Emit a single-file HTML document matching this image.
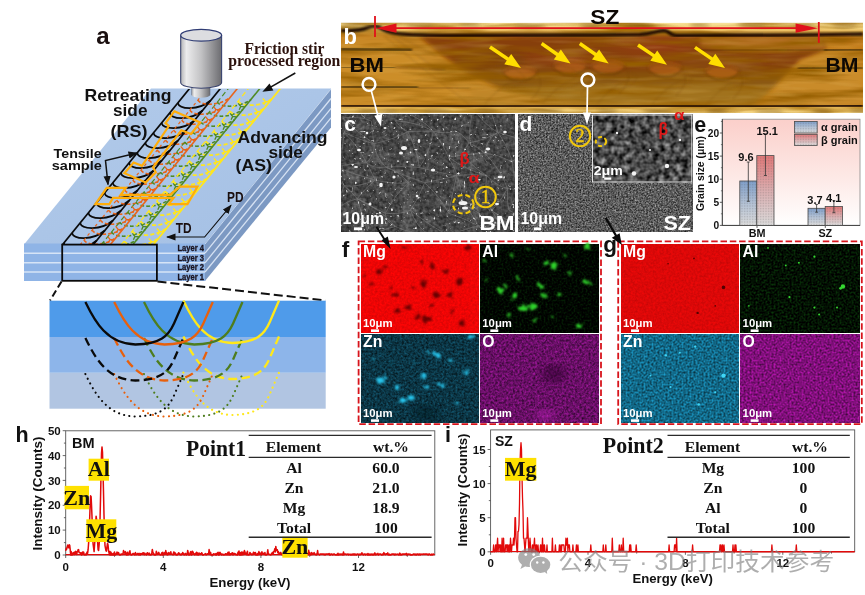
<!DOCTYPE html>
<html><head><meta charset="utf-8">
<style>
html,body{margin:0;padding:0;background:#fff;}
body{width:865px;height:595px;overflow:hidden;font-family:"Liberation Sans",sans-serif;}
svg{display:block;filter:blur(0.45px);}
text{font-family:"Liberation Sans",sans-serif;}
.b{font-weight:bold;}
.sf{font-family:"Liberation Serif",serif;font-weight:bold;}
</style></head><body>
<svg width="865" height="595" viewBox="0 0 865 595">
<rect width="865" height="595" fill="#fff"/>
<!-- PA -->
<g id="pa">
<defs>
<linearGradient id="cylg" x1="0" x2="1" y1="0" y2="0"><stop offset="0" stop-color="#b4b4b6"/><stop offset="0.14" stop-color="#ececed"/><stop offset="0.5" stop-color="#c2c2c4"/><stop offset="1" stop-color="#6c6c70"/></linearGradient>
<linearGradient id="topg" x1="0" x2="1" y1="0" y2="1"><stop offset="0" stop-color="#b3cbea"/><stop offset="1" stop-color="#a3bfe4"/></linearGradient>
<clipPath id="topclip"><polygon points="151,89 331,89 205,244.5 24,244.5"/></clipPath>
</defs>
<polygon points="151,88.5 331,88.5 205,244.5 24,244.5" fill="url(#topg)"/>
<rect x="24" y="243.5" width="181.2" height="37.5" fill="#8fb4e6"/>
<rect x="24" y="252.6" width="181.2" height="1.2" fill="#e8f0fa"/>
<rect x="24" y="262.2" width="181.2" height="1.2" fill="#e8f0fa"/>
<rect x="24" y="271.4" width="181.2" height="1.2" fill="#e8f0fa"/>
<polygon points="205,243.5 331,88.5 331,127.5 205,281" fill="#7c99c3"/>
<line x1="205" y1="253.2" x2="331" y2="98.5" stroke="#d6e2f3" stroke-width="1.3"/>
<line x1="205" y1="262.8" x2="331" y2="108.4" stroke="#d6e2f3" stroke-width="1.3"/>
<line x1="205" y1="272.0" x2="331" y2="117.9" stroke="#d6e2f3" stroke-width="1.3"/>
<line x1="205" y1="244" x2="331" y2="89" stroke="#c4d6ee" stroke-width="1"/>
<g clip-path="url(#topclip)">
<path d="M63.8,243.0 C65.5,249.3 84.2,251.1 96.7,240.5" fill="none" stroke="#0a0a0a" stroke-width="1.7"/>
<path d="M72.0,233.0 C73.6,239.3 92.3,241.1 104.8,230.5" fill="none" stroke="#0a0a0a" stroke-width="1.7"/>
<path d="M80.1,223.0 C81.8,229.3 100.5,231.1 112.9,220.5" fill="none" stroke="#0a0a0a" stroke-width="1.7"/>
<path d="M88.3,213.0 C89.9,219.3 108.6,221.1 121.1,210.5" fill="none" stroke="#0a0a0a" stroke-width="1.7"/>
<path d="M96.4,203.0 C98.0,209.3 116.8,211.1 129.2,200.5" fill="none" stroke="#0a0a0a" stroke-width="1.7"/>
<path d="M104.5,193.0 C106.2,199.3 124.9,201.1 137.4,190.5" fill="none" stroke="#0a0a0a" stroke-width="1.7"/>
<path d="M112.7,183.0 C114.3,189.3 133.0,191.1 145.5,180.5" fill="none" stroke="#0a0a0a" stroke-width="1.7"/>
<path d="M120.8,173.0 C122.5,179.3 141.2,181.1 153.7,170.5" fill="none" stroke="#0a0a0a" stroke-width="1.7"/>
<path d="M129.0,163.0 C130.6,169.3 149.3,171.1 161.8,160.5" fill="none" stroke="#0a0a0a" stroke-width="1.7"/>
<path d="M137.1,153.0 C138.7,159.3 157.5,161.1 169.9,150.5" fill="none" stroke="#0a0a0a" stroke-width="1.7"/>
<path d="M145.2,143.0 C146.9,149.3 165.6,151.1 178.1,140.5" fill="none" stroke="#0a0a0a" stroke-width="1.7"/>
<path d="M153.4,133.0 C155.0,139.3 173.7,141.1 186.2,130.5" fill="none" stroke="#0a0a0a" stroke-width="1.7"/>
<path d="M161.5,123.0 C163.2,129.3 181.9,131.1 194.4,120.5" fill="none" stroke="#0a0a0a" stroke-width="1.7"/>
<path d="M169.7,113.0 C171.3,119.3 190.0,121.1 202.5,110.5" fill="none" stroke="#0a0a0a" stroke-width="1.7"/>
<path d="M177.8,103.0 C179.4,109.3 198.2,111.1 210.6,100.5" fill="none" stroke="#0a0a0a" stroke-width="1.7"/>
<path d="M84.1,240.0 C85.7,245.2 103.9,246.8 116.1,237.5" fill="none" stroke="#e8641a" stroke-width="1.6" stroke-dasharray="3.6 2.2"/>
<path d="M92.2,230.0 C93.8,235.2 112.1,236.8 124.2,227.5" fill="none" stroke="#e8641a" stroke-width="1.6" stroke-dasharray="3.6 2.2"/>
<path d="M100.4,220.0 C102.0,225.2 120.2,226.8 132.4,217.5" fill="none" stroke="#e8641a" stroke-width="1.6" stroke-dasharray="3.6 2.2"/>
<path d="M108.5,210.0 C110.1,215.2 128.4,216.8 140.5,207.5" fill="none" stroke="#e8641a" stroke-width="1.6" stroke-dasharray="3.6 2.2"/>
<path d="M116.6,200.0 C118.2,205.2 136.5,206.8 148.7,197.5" fill="none" stroke="#e8641a" stroke-width="1.6" stroke-dasharray="3.6 2.2"/>
<path d="M124.8,190.0 C126.4,195.2 144.6,196.8 156.8,187.5" fill="none" stroke="#e8641a" stroke-width="1.6" stroke-dasharray="3.6 2.2"/>
<path d="M132.9,180.0 C134.5,185.2 152.8,186.8 165.0,177.5" fill="none" stroke="#e8641a" stroke-width="1.6" stroke-dasharray="3.6 2.2"/>
<path d="M141.1,170.0 C142.7,175.2 160.9,176.8 173.1,167.5" fill="none" stroke="#e8641a" stroke-width="1.6" stroke-dasharray="3.6 2.2"/>
<path d="M149.2,160.0 C150.8,165.2 169.1,166.8 181.2,157.5" fill="none" stroke="#e8641a" stroke-width="1.6" stroke-dasharray="3.6 2.2"/>
<path d="M157.3,150.0 C158.9,155.2 177.2,156.8 189.4,147.5" fill="none" stroke="#e8641a" stroke-width="1.6" stroke-dasharray="3.6 2.2"/>
<path d="M165.5,140.0 C167.1,145.2 185.3,146.8 197.5,137.5" fill="none" stroke="#e8641a" stroke-width="1.6" stroke-dasharray="3.6 2.2"/>
<path d="M173.6,130.0 C175.2,135.2 193.5,136.8 205.7,127.5" fill="none" stroke="#e8641a" stroke-width="1.6" stroke-dasharray="3.6 2.2"/>
<path d="M181.8,120.0 C183.4,125.2 201.6,126.8 213.8,117.5" fill="none" stroke="#e8641a" stroke-width="1.6" stroke-dasharray="3.6 2.2"/>
<path d="M189.9,110.0 C191.5,115.2 209.8,116.8 221.9,107.5" fill="none" stroke="#e8641a" stroke-width="1.6" stroke-dasharray="3.6 2.2"/>
<path d="M198.0,100.0 C199.6,105.2 217.9,106.8 230.1,97.5" fill="none" stroke="#e8641a" stroke-width="1.6" stroke-dasharray="3.6 2.2"/>
<path d="M103.4,242.0 C105.1,247.2 124.2,248.8 137.0,239.5" fill="none" stroke="#4f8a24" stroke-width="1.6" stroke-dasharray="3.6 2.2"/>
<path d="M111.6,232.0 C113.3,237.2 132.4,238.8 145.1,229.5" fill="none" stroke="#4f8a24" stroke-width="1.6" stroke-dasharray="3.6 2.2"/>
<path d="M119.7,222.0 C121.4,227.2 140.5,228.8 153.3,219.5" fill="none" stroke="#4f8a24" stroke-width="1.6" stroke-dasharray="3.6 2.2"/>
<path d="M127.9,212.0 C129.5,217.2 148.7,218.8 161.4,209.5" fill="none" stroke="#4f8a24" stroke-width="1.6" stroke-dasharray="3.6 2.2"/>
<path d="M136.0,202.0 C137.7,207.2 156.8,208.8 169.5,199.5" fill="none" stroke="#4f8a24" stroke-width="1.6" stroke-dasharray="3.6 2.2"/>
<path d="M144.1,192.0 C145.8,197.2 164.9,198.8 177.7,189.5" fill="none" stroke="#4f8a24" stroke-width="1.6" stroke-dasharray="3.6 2.2"/>
<path d="M152.3,182.0 C154.0,187.2 173.1,188.8 185.8,179.5" fill="none" stroke="#4f8a24" stroke-width="1.6" stroke-dasharray="3.6 2.2"/>
<path d="M160.4,172.0 C162.1,177.2 181.2,178.8 194.0,169.5" fill="none" stroke="#4f8a24" stroke-width="1.6" stroke-dasharray="3.6 2.2"/>
<path d="M168.6,162.0 C170.2,167.2 189.4,168.8 202.1,159.5" fill="none" stroke="#4f8a24" stroke-width="1.6" stroke-dasharray="3.6 2.2"/>
<path d="M176.7,152.0 C178.4,157.2 197.5,158.8 210.2,149.5" fill="none" stroke="#4f8a24" stroke-width="1.6" stroke-dasharray="3.6 2.2"/>
<path d="M184.9,142.0 C186.5,147.2 205.6,148.8 218.4,139.5" fill="none" stroke="#4f8a24" stroke-width="1.6" stroke-dasharray="3.6 2.2"/>
<path d="M193.0,132.0 C194.7,137.2 213.8,138.8 226.5,129.5" fill="none" stroke="#4f8a24" stroke-width="1.6" stroke-dasharray="3.6 2.2"/>
<path d="M201.1,122.0 C202.8,127.2 221.9,128.8 234.7,119.5" fill="none" stroke="#4f8a24" stroke-width="1.6" stroke-dasharray="3.6 2.2"/>
<path d="M209.3,112.0 C211.0,117.2 230.1,118.8 242.8,109.5" fill="none" stroke="#4f8a24" stroke-width="1.6" stroke-dasharray="3.6 2.2"/>
<path d="M217.4,102.0 C219.1,107.2 238.2,108.8 251.0,99.5" fill="none" stroke="#4f8a24" stroke-width="1.6" stroke-dasharray="3.6 2.2"/>
<path d="M124.3,241.0 C126.0,246.2 145.4,247.8 158.3,238.5" fill="none" stroke="#ffe61e" stroke-width="1.8" stroke-dasharray="4 2.4"/>
<path d="M132.4,231.0 C134.1,236.2 153.5,237.8 166.4,228.5" fill="none" stroke="#ffe61e" stroke-width="1.8" stroke-dasharray="4 2.4"/>
<path d="M140.5,221.0 C142.2,226.2 161.6,227.8 174.6,218.5" fill="none" stroke="#ffe61e" stroke-width="1.8" stroke-dasharray="4 2.4"/>
<path d="M148.7,211.0 C150.4,216.2 169.8,217.8 182.7,208.5" fill="none" stroke="#ffe61e" stroke-width="1.8" stroke-dasharray="4 2.4"/>
<path d="M156.8,201.0 C158.5,206.2 177.9,207.8 190.9,198.5" fill="none" stroke="#ffe61e" stroke-width="1.8" stroke-dasharray="4 2.4"/>
<path d="M165.0,191.0 C166.7,196.2 186.1,197.8 199.0,188.5" fill="none" stroke="#ffe61e" stroke-width="1.8" stroke-dasharray="4 2.4"/>
<path d="M173.1,181.0 C174.8,186.2 194.2,187.8 207.1,178.5" fill="none" stroke="#ffe61e" stroke-width="1.8" stroke-dasharray="4 2.4"/>
<path d="M181.2,171.0 C182.9,176.2 202.3,177.8 215.3,168.5" fill="none" stroke="#ffe61e" stroke-width="1.8" stroke-dasharray="4 2.4"/>
<path d="M189.4,161.0 C191.1,166.2 210.5,167.8 223.4,158.5" fill="none" stroke="#ffe61e" stroke-width="1.8" stroke-dasharray="4 2.4"/>
<path d="M197.5,151.0 C199.2,156.2 218.6,157.8 231.6,148.5" fill="none" stroke="#ffe61e" stroke-width="1.8" stroke-dasharray="4 2.4"/>
<path d="M205.7,141.0 C207.4,146.2 226.8,147.8 239.7,138.5" fill="none" stroke="#ffe61e" stroke-width="1.8" stroke-dasharray="4 2.4"/>
<path d="M213.8,131.0 C215.5,136.2 234.9,137.8 247.8,128.5" fill="none" stroke="#ffe61e" stroke-width="1.8" stroke-dasharray="4 2.4"/>
<path d="M221.9,121.0 C223.7,126.2 243.1,127.8 256.0,118.5" fill="none" stroke="#ffe61e" stroke-width="1.8" stroke-dasharray="4 2.4"/>
<path d="M230.1,111.0 C231.8,116.2 251.2,117.8 264.1,108.5" fill="none" stroke="#ffe61e" stroke-width="1.8" stroke-dasharray="4 2.4"/>
<path d="M238.2,101.0 C239.9,106.2 259.3,107.8 272.3,98.5" fill="none" stroke="#ffe61e" stroke-width="1.8" stroke-dasharray="4 2.4"/>
<line x1="80.0" y1="245" x2="207.8" y2="88" stroke="#e8641a" stroke-width="1.2" stroke-dasharray="3 3"/>
<line x1="101.0" y1="245" x2="228.8" y2="88" stroke="#4f8a24" stroke-width="1.2" stroke-dasharray="5 3"/>
<line x1="121.0" y1="245" x2="248.8" y2="88" stroke="#ffe61e" stroke-width="1.3" stroke-dasharray="5 3"/>
<line x1="110.0" y1="245" x2="237.8" y2="88" stroke="#e8641a" stroke-width="1.6"/>
<line x1="132.5" y1="245" x2="260.3" y2="88" stroke="#4f8a24" stroke-width="1.6"/>
<line x1="153.0" y1="245" x2="280.8" y2="88" stroke="#ffe61e" stroke-width="1.8"/>
<line x1="62.2" y1="245" x2="190.0" y2="88" stroke="#0a0a0a" stroke-width="1.7"/>
<line x1="93.0" y1="245" x2="220.8" y2="88" stroke="#0a0a0a" stroke-width="1.7"/>
<path d="M114.1,240.0 l-4,-0.6 l-2.6,-3 M110.1,239.4 l-1.6,3.4" fill="none" stroke="#e8641a" stroke-width="1.3"/>
<path d="M122.2,230.0 l-4,-0.6 l-2.6,-3 M118.2,229.4 l-1.6,3.4" fill="none" stroke="#e8641a" stroke-width="1.3"/>
<path d="M130.4,220.0 l-4,-0.6 l-2.6,-3 M126.4,219.4 l-1.6,3.4" fill="none" stroke="#e8641a" stroke-width="1.3"/>
<path d="M138.5,210.0 l-4,-0.6 l-2.6,-3 M134.5,209.4 l-1.6,3.4" fill="none" stroke="#e8641a" stroke-width="1.3"/>
<path d="M146.6,200.0 l-4,-0.6 l-2.6,-3 M142.6,199.4 l-1.6,3.4" fill="none" stroke="#e8641a" stroke-width="1.3"/>
<path d="M154.8,190.0 l-4,-0.6 l-2.6,-3 M150.8,189.4 l-1.6,3.4" fill="none" stroke="#e8641a" stroke-width="1.3"/>
<path d="M162.9,180.0 l-4,-0.6 l-2.6,-3 M158.9,179.4 l-1.6,3.4" fill="none" stroke="#e8641a" stroke-width="1.3"/>
<path d="M171.1,170.0 l-4,-0.6 l-2.6,-3 M167.1,169.4 l-1.6,3.4" fill="none" stroke="#e8641a" stroke-width="1.3"/>
<path d="M179.2,160.0 l-4,-0.6 l-2.6,-3 M175.2,159.4 l-1.6,3.4" fill="none" stroke="#e8641a" stroke-width="1.3"/>
<path d="M187.3,150.0 l-4,-0.6 l-2.6,-3 M183.3,149.4 l-1.6,3.4" fill="none" stroke="#e8641a" stroke-width="1.3"/>
<path d="M195.5,140.0 l-4,-0.6 l-2.6,-3 M191.5,139.4 l-1.6,3.4" fill="none" stroke="#e8641a" stroke-width="1.3"/>
<path d="M203.6,130.0 l-4,-0.6 l-2.6,-3 M199.6,129.4 l-1.6,3.4" fill="none" stroke="#e8641a" stroke-width="1.3"/>
<path d="M211.8,120.0 l-4,-0.6 l-2.6,-3 M207.8,119.4 l-1.6,3.4" fill="none" stroke="#e8641a" stroke-width="1.3"/>
<path d="M219.9,110.0 l-4,-0.6 l-2.6,-3 M215.9,109.4 l-1.6,3.4" fill="none" stroke="#e8641a" stroke-width="1.3"/>
<path d="M139.0,237.0 l-4,-0.6 l-2.6,-3 M135.0,236.4 l-1.6,3.4" fill="none" stroke="#4f8a24" stroke-width="1.3"/>
<path d="M147.2,227.0 l-4,-0.6 l-2.6,-3 M143.2,226.4 l-1.6,3.4" fill="none" stroke="#4f8a24" stroke-width="1.3"/>
<path d="M155.3,217.0 l-4,-0.6 l-2.6,-3 M151.3,216.4 l-1.6,3.4" fill="none" stroke="#4f8a24" stroke-width="1.3"/>
<path d="M163.4,207.0 l-4,-0.6 l-2.6,-3 M159.4,206.4 l-1.6,3.4" fill="none" stroke="#4f8a24" stroke-width="1.3"/>
<path d="M171.6,197.0 l-4,-0.6 l-2.6,-3 M167.6,196.4 l-1.6,3.4" fill="none" stroke="#4f8a24" stroke-width="1.3"/>
<path d="M179.7,187.0 l-4,-0.6 l-2.6,-3 M175.7,186.4 l-1.6,3.4" fill="none" stroke="#4f8a24" stroke-width="1.3"/>
<path d="M187.9,177.0 l-4,-0.6 l-2.6,-3 M183.9,176.4 l-1.6,3.4" fill="none" stroke="#4f8a24" stroke-width="1.3"/>
<path d="M196.0,167.0 l-4,-0.6 l-2.6,-3 M192.0,166.4 l-1.6,3.4" fill="none" stroke="#4f8a24" stroke-width="1.3"/>
<path d="M204.1,157.0 l-4,-0.6 l-2.6,-3 M200.1,156.4 l-1.6,3.4" fill="none" stroke="#4f8a24" stroke-width="1.3"/>
<path d="M212.3,147.0 l-4,-0.6 l-2.6,-3 M208.3,146.4 l-1.6,3.4" fill="none" stroke="#4f8a24" stroke-width="1.3"/>
<path d="M220.4,137.0 l-4,-0.6 l-2.6,-3 M216.4,136.4 l-1.6,3.4" fill="none" stroke="#4f8a24" stroke-width="1.3"/>
<path d="M228.6,127.0 l-4,-0.6 l-2.6,-3 M224.6,126.4 l-1.6,3.4" fill="none" stroke="#4f8a24" stroke-width="1.3"/>
<path d="M236.7,117.0 l-4,-0.6 l-2.6,-3 M232.7,116.4 l-1.6,3.4" fill="none" stroke="#4f8a24" stroke-width="1.3"/>
<path d="M244.8,107.0 l-4,-0.6 l-2.6,-3 M240.8,106.4 l-1.6,3.4" fill="none" stroke="#4f8a24" stroke-width="1.3"/>
<path d="M155.4,242.0 l-4,-0.6 l-2.6,-3 M151.4,241.4 l-1.6,3.4" fill="none" stroke="#ffe61e" stroke-width="1.5"/>
<path d="M163.6,232.0 l-4,-0.6 l-2.6,-3 M159.6,231.4 l-1.6,3.4" fill="none" stroke="#ffe61e" stroke-width="1.5"/>
<path d="M171.7,222.0 l-4,-0.6 l-2.6,-3 M167.7,221.4 l-1.6,3.4" fill="none" stroke="#ffe61e" stroke-width="1.5"/>
<path d="M179.9,212.0 l-4,-0.6 l-2.6,-3 M175.9,211.4 l-1.6,3.4" fill="none" stroke="#ffe61e" stroke-width="1.5"/>
<path d="M188.0,202.0 l-4,-0.6 l-2.6,-3 M184.0,201.4 l-1.6,3.4" fill="none" stroke="#ffe61e" stroke-width="1.5"/>
<path d="M196.1,192.0 l-4,-0.6 l-2.6,-3 M192.1,191.4 l-1.6,3.4" fill="none" stroke="#ffe61e" stroke-width="1.5"/>
<path d="M204.3,182.0 l-4,-0.6 l-2.6,-3 M200.3,181.4 l-1.6,3.4" fill="none" stroke="#ffe61e" stroke-width="1.5"/>
<path d="M212.4,172.0 l-4,-0.6 l-2.6,-3 M208.4,171.4 l-1.6,3.4" fill="none" stroke="#ffe61e" stroke-width="1.5"/>
<path d="M220.6,162.0 l-4,-0.6 l-2.6,-3 M216.6,161.4 l-1.6,3.4" fill="none" stroke="#ffe61e" stroke-width="1.5"/>
<path d="M228.7,152.0 l-4,-0.6 l-2.6,-3 M224.7,151.4 l-1.6,3.4" fill="none" stroke="#ffe61e" stroke-width="1.5"/>
<path d="M236.9,142.0 l-4,-0.6 l-2.6,-3 M232.9,141.4 l-1.6,3.4" fill="none" stroke="#ffe61e" stroke-width="1.5"/>
<path d="M245.0,132.0 l-4,-0.6 l-2.6,-3 M241.0,131.4 l-1.6,3.4" fill="none" stroke="#ffe61e" stroke-width="1.5"/>
<path d="M253.1,122.0 l-4,-0.6 l-2.6,-3 M249.1,121.4 l-1.6,3.4" fill="none" stroke="#ffe61e" stroke-width="1.5"/>
<path d="M261.3,112.0 l-4,-0.6 l-2.6,-3 M257.3,111.4 l-1.6,3.4" fill="none" stroke="#ffe61e" stroke-width="1.5"/>
<path d="M269.4,102.0 l-4,-0.6 l-2.6,-3 M265.4,101.4 l-1.6,3.4" fill="none" stroke="#ffe61e" stroke-width="1.5"/>
</g>
<polygon points="174.3,111.3 200.2,122.4 191,134 181.4,130.3 153,167.3 155.8,172.3 145.7,182.5 124.4,173.2 133.6,162.5 142,165.8 168.8,126 165.5,123" fill="none" stroke="#ffad0a" stroke-width="2.2" stroke-linejoin="miter"/>
<polygon points="95.4,204.2 106.7,187.8 125.7,187.8 120.6,194.9 169.8,194.9 179.9,186.6 197.5,186.6 187.5,204.2 168.5,204.2 173.6,197.9 113,197.9 109.3,204.2" fill="none" stroke="#ffad0a" stroke-width="2.2"/>
<rect x="62.2" y="244.6" width="94.7" height="36.2" fill="none" stroke="#0a0a0a" stroke-width="1.8"/>
<rect x="191.8" y="84" width="18.2" height="11" fill="url(#cylg)" stroke="#5f6575" stroke-width="0.6"/>
<ellipse cx="200.9" cy="95" rx="9.1" ry="2.8" fill="url(#cylg)"/>
<path d="M180.7,35.3 L180.7,82.4 A20.45,5.8 0 0 0 221.6,82.4 L221.6,35.3 Z" fill="url(#cylg)" stroke="#3a4470" stroke-width="1.1"/>
<ellipse cx="201.15" cy="35.3" rx="20.45" ry="5.9" fill="#dcdde0" stroke="#2f3c74" stroke-width="1.2"/>
<line x1="61.5" y1="281.5" x2="50" y2="300.5" stroke="#111" stroke-width="2" stroke-dasharray="7 3.5"/>
<line x1="157.5" y1="281.5" x2="325.5" y2="300.5" stroke="#111" stroke-width="2" stroke-dasharray="9 4"/>
<rect x="49.5" y="300.7" width="276.2" height="36.3" fill="#4f9bea"/>
<rect x="49.5" y="337" width="276.2" height="35.8" fill="#8db5ea"/>
<rect x="49.5" y="372.8" width="276.2" height="35.9" fill="#b1c5e2"/>
<path d="M183.4,372.5 C192.8,392.5 204.9,414.5 232.2,415.0 C256.6,414.5 264.4,406.5 269.8,394.0 L279.0,372.5" fill="none" stroke="#ffe81a" stroke-width="2.1" stroke-dasharray="0.1 5.2" stroke-linecap="round"/>
<path d="M144.0,374.0 C153.6,394.0 166.1,416.0 194.3,416.5 C219.4,416.0 227.4,408.0 233.1,395.5 L242.5,374.0" fill="none" stroke="#4e7d1e" stroke-width="2.1" stroke-dasharray="0.1 5.2" stroke-linecap="round"/>
<path d="M114.2,374.0 C123.9,394.0 136.3,416.0 164.5,416.5 C189.7,416.0 197.7,408.0 203.3,395.5 L212.8,374.0" fill="none" stroke="#e8600c" stroke-width="2.1" stroke-dasharray="0.1 5.2" stroke-linecap="round"/>
<path d="M85.4,374.0 C95.0,394.0 107.4,416.0 135.4,416.5 C160.4,416.0 168.4,408.0 174.0,395.5 L183.4,374.0" fill="none" stroke="#0a0a0a" stroke-width="2.1" stroke-dasharray="0.1 5.2" stroke-linecap="round"/>
<path d="M183.4,336.5 C192.8,356.5 204.9,378.5 232.2,379.0 C256.6,378.5 264.4,370.5 269.8,358.0 L279.0,336.5" fill="none" stroke="#ffe81a" stroke-width="2.3" stroke-dasharray="8.5 4.5"/>
<path d="M144.0,338.0 C153.6,358.0 166.1,380.0 194.3,380.5 C219.4,380.0 227.4,372.0 233.1,359.5 L242.5,338.0" fill="none" stroke="#4e7d1e" stroke-width="2.3" stroke-dasharray="8.5 4.5"/>
<path d="M114.2,338.0 C123.9,358.0 136.3,380.0 164.5,380.5 C189.7,380.0 197.7,372.0 203.3,359.5 L212.8,338.0" fill="none" stroke="#e8600c" stroke-width="2.3" stroke-dasharray="8.5 4.5"/>
<path d="M85.4,338.0 C95.0,358.0 107.4,380.0 135.4,380.5 C160.4,380.0 168.4,372.0 174.0,359.5 L183.4,338.0" fill="none" stroke="#0a0a0a" stroke-width="2.3" stroke-dasharray="8.5 4.5"/>
<path d="M183.4,300.5 C192.8,320.5 204.9,342.5 232.2,343.0 C256.6,342.5 264.4,334.5 269.8,322.0 L279.0,300.5" fill="none" stroke="#ffe81a" stroke-width="2.3"/>
<path d="M144.0,302.0 C153.6,322.0 166.1,344.0 194.3,344.5 C219.4,344.0 227.4,336.0 233.1,323.5 L242.5,302.0" fill="none" stroke="#4e7d1e" stroke-width="2.3"/>
<path d="M114.2,302.0 C123.9,322.0 136.3,344.0 164.5,344.5 C189.7,344.0 197.7,336.0 203.3,323.5 L212.8,302.0" fill="none" stroke="#e8600c" stroke-width="2.3"/>
<path d="M85.4,302.0 C95.0,322.0 107.4,344.0 135.4,344.5 C160.4,344.0 168.4,336.0 174.0,323.5 L183.4,302.0" fill="none" stroke="#0a0a0a" stroke-width="2.3"/>
<text x="96.3" y="44.3" font-size="24.0" class="b" fill="#1a0f0f">a</text>
<text x="84.5" y="101.2" font-size="16.5" class="b" textLength="87" lengthAdjust="spacingAndGlyphs" fill="#111">Retreating</text>
<text x="113.0" y="116.2" font-size="16.5" class="b" textLength="34.5" lengthAdjust="spacingAndGlyphs" fill="#111">side</text>
<text x="110.5" y="137.0" font-size="17.0" class="b" textLength="37" lengthAdjust="spacingAndGlyphs" fill="#111">(RS)</text>
<text x="237.6" y="142.8" font-size="16.5" class="b" textLength="90" lengthAdjust="spacingAndGlyphs" fill="#111">Advancing</text>
<text x="268.4" y="158.3" font-size="16.5" class="b" textLength="34.5" lengthAdjust="spacingAndGlyphs" fill="#111">side</text>
<text x="235.5" y="170.8" font-size="17.0" class="b" textLength="36.5" lengthAdjust="spacingAndGlyphs" fill="#111">(AS)</text>
<text x="53.6" y="158.2" font-size="13.5" class="b" textLength="48" lengthAdjust="spacingAndGlyphs" fill="#111">Tensile</text>
<text x="51.8" y="169.6" font-size="13.5" class="b" textLength="50" lengthAdjust="spacingAndGlyphs" fill="#111">sample</text>
<text x="175.7" y="233.2" font-size="15.5" class="b" textLength="15.8" lengthAdjust="spacingAndGlyphs" fill="#1a0f0f">TD</text>
<text x="227.0" y="201.6" font-size="15.0" class="b" textLength="16.5" lengthAdjust="spacingAndGlyphs" fill="#1a0f0f">PD</text>
<text x="177.4" y="251.4" font-size="9.3" class="b" textLength="26.5" lengthAdjust="spacingAndGlyphs" fill="#1a1420" stroke="#1a1420" stroke-width="0.35">Layer 4</text>
<text x="177.4" y="261.3" font-size="9.3" class="b" textLength="26.5" lengthAdjust="spacingAndGlyphs" fill="#1a1420" stroke="#1a1420" stroke-width="0.35">Layer 3</text>
<text x="177.4" y="270.2" font-size="9.3" class="b" textLength="26.5" lengthAdjust="spacingAndGlyphs" fill="#1a1420" stroke="#1a1420" stroke-width="0.35">Layer 2</text>
<text x="177.4" y="279.6" font-size="9.3" class="b" textLength="26.5" lengthAdjust="spacingAndGlyphs" fill="#1a1420" stroke="#1a1420" stroke-width="0.35">Layer 1</text>
<text x="284.5" y="54.3" font-size="17.5" class="sf" fill="#2c120d" text-anchor="middle" textLength="80" lengthAdjust="spacingAndGlyphs">Friction stir</text>
<text x="284.3" y="66" font-size="17.5" class="sf" fill="#2c120d" text-anchor="middle" textLength="112" lengthAdjust="spacingAndGlyphs">processed region</text>
<defs><marker id="ah" markerWidth="11" markerHeight="9" refX="8.5" refY="3.6" orient="auto" markerUnits="userSpaceOnUse"><path d="M0,0 L9.5,3.6 L0,7.2 Z" fill="#111"/></marker></defs>
<line x1="295.3" y1="73" x2="268" y2="88.6" stroke="#111" stroke-width="1.5"/><polygon points="262.4,91.8 269.5,83.6 273.4,90.4" fill="#111"/>
<polyline points="231,205.3 204.6,237 167,237" fill="none" stroke="#111" stroke-width="1.1" marker-end="url(#ah)" marker-start="url(#ah2)"/>
<defs><marker id="ah2" markerWidth="11" markerHeight="9" refX="8.5" refY="3.6" orient="auto-start-reverse" markerUnits="userSpaceOnUse"><path d="M0,0 L9.5,3.6 L0,7.2 Z" fill="#111"/></marker></defs>
<polyline points="137,153 105.5,160.5 108,184.5" fill="none" stroke="#111" stroke-width="1.5" marker-end="url(#ah)" marker-start="url(#ah2)"/>
</g>
<!-- PB -->
<g id="pb">
<defs>
<clipPath id="bclip"><rect x="341" y="22.7" width="522" height="90.3"/></clipPath>
<linearGradient id="bbase" x1="0" x2="0" y1="0" y2="1">
<stop offset="0" stop-color="#f8e29c"/><stop offset="0.07" stop-color="#f0cc74"/><stop offset="0.11" stop-color="#e0a844"/><stop offset="0.15" stop-color="#cb7e1c"/>
<stop offset="0.3" stop-color="#d68c20"/><stop offset="0.6" stop-color="#da9426"/><stop offset="0.91" stop-color="#d28c22"/><stop offset="0.94" stop-color="#e8bc5c"/><stop offset="1" stop-color="#f4d688"/>
</linearGradient>
<linearGradient id="szg" x1="0" x2="0" y1="0" y2="1">
<stop offset="0" stop-color="#8f440b"/><stop offset="0.45" stop-color="#8a410a"/><stop offset="0.6" stop-color="#8e5a10"/><stop offset="1" stop-color="#a2741e"/>
</linearGradient>
<radialGradient id="redg" cx="0.5" cy="0.5" r="0.5"><stop offset="0" stop-color="#a2401a" stop-opacity="0.8"/><stop offset="1" stop-color="#a2401a" stop-opacity="0"/></radialGradient>
<filter id="bgrain" x="0" y="0" width="100%" height="100%">
<feTurbulence type="fractalNoise" baseFrequency="0.012 0.11" numOctaves="3" seed="7" result="n"/>
<feColorMatrix in="n" type="matrix" values="0 0 0 0 0.34  0 0 0 0 0.13  0 0 0 0 0.0  2.4 0 0 0 -0.95"/>
</filter>
<filter id="bgrain2" x="0" y="0" width="100%" height="100%">
<feTurbulence type="fractalNoise" baseFrequency="0.02 0.16" numOctaves="2" seed="21" result="n"/>
<feColorMatrix in="n" type="matrix" values="0 0 0 0 0.97  0 0 0 0 0.70  0 0 0 0 0.22  1.6 0 0 0 -0.74"/>
</filter>
<filter id="blur2"><feGaussianBlur stdDeviation="2"/></filter>
<filter id="blur1"><feGaussianBlur stdDeviation="0.8"/></filter>
<filter id="blur3"><feGaussianBlur stdDeviation="3.5"/></filter>
</defs>
<g clip-path="url(#bclip)">
<rect x="341" y="22.7" width="522" height="90.3" fill="url(#bbase)"/>
<polygon points="418,35 822,36 826,50 800,60 775,86 752,104 600,104 545,98 500,88 468,73 442,55" fill="url(#szg)" filter="url(#blur2)" opacity="1"/>
<polygon points="700,36 822,36 826,49 770,52 730,50 700,46" fill="#c8822a" filter="url(#blur2)" opacity="0.85"/>
<polygon points="470,92 560,84 640,86 720,82 770,90 755,106 482,106" fill="#b88a2a" filter="url(#blur2)" opacity="0.6"/>
<ellipse cx="655" cy="46" rx="55" ry="14" fill="url(#redg)"/>
<ellipse cx="560" cy="60" rx="60" ry="12" fill="url(#redg)" opacity="0.7"/>
<ellipse cx="490" cy="62" rx="36" ry="14" fill="#7c4510" opacity="0.55" filter="url(#blur3)"/>
<ellipse cx="540" cy="72" rx="50" ry="12" fill="#8d5616" opacity="0.35" filter="url(#blur3)"/>
<ellipse cx="720" cy="66" rx="45" ry="12" fill="#99601a" opacity="0.35" filter="url(#blur3)"/>
<polygon points="341,36 385,34 420,56 450,85 470,106 341,106" fill="#e0a236" opacity="0.65" filter="url(#blur2)"/><polygon points="385,35 414,35 438,55 462,73 494,89 540,100 560,106 470,106 440,78 410,50" fill="#d69a34" opacity="0.6" filter="url(#blur1)"/><path d="M384,36 L420,66 L470,105 M392,36 L440,72 M398,36 L436,56" fill="none" stroke="#8a5a18" stroke-width="1" opacity="0.45" filter="url(#blur1)"/>
<polygon points="863,52 828,50 800,62 780,86 762,106 863,106" fill="#dca03a" opacity="0.55" filter="url(#blur2)"/>
<rect x="341" y="22.7" width="522" height="90.3" filter="url(#bgrain)"/>
<rect x="341" y="22.7" width="522" height="90.3" filter="url(#bgrain2)" opacity="0.38"/>
<rect x="341" y="31" width="522" height="76" fill="#5a2c00" opacity="0.13"/>
<ellipse cx="520" cy="72" rx="17" ry="6.5" fill="#bf651a" opacity="0.55" filter="url(#blur1)"/>
<path d="M503,72 q17,-9 34,0 q-4,9 -17,9 q-13,0 -17,-9" fill="none" stroke="#5c3008" stroke-width="1.1" opacity="0.55" filter="url(#blur1)"/>
<path d="M537,74 q10,10 -6,26" fill="none" stroke="#6a3a0c" stroke-width="1" opacity="0.35" filter="url(#blur1)"/>
<ellipse cx="570" cy="66" rx="17" ry="6.5" fill="#bf651a" opacity="0.55" filter="url(#blur1)"/>
<path d="M553,66 q17,-9 34,0 q-4,9 -17,9 q-13,0 -17,-9" fill="none" stroke="#5c3008" stroke-width="1.1" opacity="0.55" filter="url(#blur1)"/>
<path d="M587,68 q10,10 -6,26" fill="none" stroke="#6a3a0c" stroke-width="1" opacity="0.35" filter="url(#blur1)"/>
<ellipse cx="608" cy="66" rx="17" ry="6.5" fill="#bf651a" opacity="0.55" filter="url(#blur1)"/>
<path d="M591,66 q17,-9 34,0 q-4,9 -17,9 q-13,0 -17,-9" fill="none" stroke="#5c3008" stroke-width="1.1" opacity="0.55" filter="url(#blur1)"/>
<path d="M625,68 q10,10 -6,26" fill="none" stroke="#6a3a0c" stroke-width="1" opacity="0.35" filter="url(#blur1)"/>
<ellipse cx="665" cy="68" rx="17" ry="6.5" fill="#bf651a" opacity="0.55" filter="url(#blur1)"/>
<path d="M648,68 q17,-9 34,0 q-4,9 -17,9 q-13,0 -17,-9" fill="none" stroke="#5c3008" stroke-width="1.1" opacity="0.55" filter="url(#blur1)"/>
<path d="M682,70 q10,10 -6,26" fill="none" stroke="#6a3a0c" stroke-width="1" opacity="0.35" filter="url(#blur1)"/>
<ellipse cx="722" cy="71" rx="17" ry="6.5" fill="#bf651a" opacity="0.55" filter="url(#blur1)"/>
<path d="M705,71 q17,-9 34,0 q-4,9 -17,9 q-13,0 -17,-9" fill="none" stroke="#5c3008" stroke-width="1.1" opacity="0.55" filter="url(#blur1)"/>
<path d="M739,73 q10,10 -6,26" fill="none" stroke="#6a3a0c" stroke-width="1" opacity="0.35" filter="url(#blur1)"/>
<path d="M495,66 q22,-2 30,12 q-2,10 -28,12" fill="none" stroke="#7a4812" stroke-width="1" opacity="0.35" filter="url(#blur1)"/>
<path d="M519,78 q-20,8 -34,26" fill="none" stroke="#6b3e10" stroke-width="1" opacity="0.3" filter="url(#blur1)"/>
<path d="M552,66 q22,-2 30,12 q-2,10 -28,12" fill="none" stroke="#7a4812" stroke-width="1" opacity="0.35" filter="url(#blur1)"/>
<path d="M576,78 q-20,8 -34,26" fill="none" stroke="#6b3e10" stroke-width="1" opacity="0.3" filter="url(#blur1)"/>
<path d="M607,66 q22,-2 30,12 q-2,10 -28,12" fill="none" stroke="#7a4812" stroke-width="1" opacity="0.35" filter="url(#blur1)"/>
<path d="M631,78 q-20,8 -34,26" fill="none" stroke="#6b3e10" stroke-width="1" opacity="0.3" filter="url(#blur1)"/>
<path d="M662,66 q22,-2 30,12 q-2,10 -28,12" fill="none" stroke="#7a4812" stroke-width="1" opacity="0.35" filter="url(#blur1)"/>
<path d="M686,78 q-20,8 -34,26" fill="none" stroke="#6b3e10" stroke-width="1" opacity="0.3" filter="url(#blur1)"/>
<path d="M717,66 q22,-2 30,12 q-2,10 -28,12" fill="none" stroke="#7a4812" stroke-width="1" opacity="0.35" filter="url(#blur1)"/>
<path d="M741,78 q-20,8 -34,26" fill="none" stroke="#6b3e10" stroke-width="1" opacity="0.3" filter="url(#blur1)"/>
<line x1="341.0" y1="49.0" x2="412.0" y2="50.0" stroke="#1d1206" stroke-width="1.9" opacity="0.90" filter="url(#blur1)"/>
<line x1="341.0" y1="67.8" x2="395.0" y2="67.2" stroke="#1d1206" stroke-width="1.6" opacity="0.85" filter="url(#blur1)"/>
<line x1="395.0" y1="67.2" x2="445.0" y2="70.0" stroke="#1d1206" stroke-width="1.0" opacity="0.40" filter="url(#blur1)"/>
<line x1="341.0" y1="86.8" x2="418.0" y2="87.5" stroke="#1d1206" stroke-width="1.9" opacity="0.90" filter="url(#blur1)"/>
<line x1="418.0" y1="87.5" x2="470.0" y2="88.0" stroke="#1d1206" stroke-width="1.0" opacity="0.40" filter="url(#blur1)"/>
<line x1="824.0" y1="50.0" x2="863.0" y2="49.3" stroke="#1d1206" stroke-width="2.0" opacity="0.90" filter="url(#blur1)"/>
<line x1="798.0" y1="68.5" x2="863.0" y2="68.0" stroke="#1d1206" stroke-width="1.7" opacity="0.85" filter="url(#blur1)"/>
<line x1="772.0" y1="87.0" x2="863.0" y2="87.0" stroke="#1d1206" stroke-width="2.0" opacity="0.90" filter="url(#blur1)"/>
<line x1="700.0" y1="50.5" x2="826.0" y2="50.0" stroke="#1d1206" stroke-width="1.2" opacity="0.50" filter="url(#blur1)"/>
<path d="M341,105.6 L480,106.3 L620,105.8 L760,106.4 L863,105.5" fill="none" stroke="#0a0602" stroke-width="2.8" filter="url(#blur1)"/>
<path d="M341,30.5 C352,31 362,30 368,27.5 C374,25 378,26 384,30 C392,34.5 410,35 450,35.5 L600,35 L640,34.5 C652,34 656,31 664,30.5 C670,30.5 668,35 676,35.5 L800,35 L863,34" fill="none" stroke="#0a0602" stroke-width="3" filter="url(#blur1)"/>
<ellipse cx="352" cy="25.5" rx="12" ry="2.6" fill="#7a5418" opacity="0.42" filter="url(#blur2)"/>
<ellipse cx="369" cy="111.5" rx="12" ry="2.6" fill="#6b4a16" opacity="0.4" filter="url(#blur2)"/>
<ellipse cx="372" cy="25.5" rx="8" ry="2.6" fill="#7a5418" opacity="0.42" filter="url(#blur2)"/>
<ellipse cx="389" cy="111.5" rx="8" ry="2.6" fill="#6b4a16" opacity="0.4" filter="url(#blur2)"/>
<ellipse cx="420" cy="25.5" rx="14" ry="2.6" fill="#7a5418" opacity="0.42" filter="url(#blur2)"/>
<ellipse cx="437" cy="111.5" rx="14" ry="2.6" fill="#6b4a16" opacity="0.4" filter="url(#blur2)"/>
<ellipse cx="470" cy="25.5" rx="10" ry="2.6" fill="#7a5418" opacity="0.42" filter="url(#blur2)"/>
<ellipse cx="487" cy="111.5" rx="10" ry="2.6" fill="#6b4a16" opacity="0.4" filter="url(#blur2)"/>
<ellipse cx="530" cy="25.5" rx="16" ry="2.6" fill="#7a5418" opacity="0.42" filter="url(#blur2)"/>
<ellipse cx="547" cy="111.5" rx="16" ry="2.6" fill="#6b4a16" opacity="0.4" filter="url(#blur2)"/>
<ellipse cx="590" cy="25.5" rx="10" ry="2.6" fill="#7a5418" opacity="0.42" filter="url(#blur2)"/>
<ellipse cx="607" cy="111.5" rx="10" ry="2.6" fill="#6b4a16" opacity="0.4" filter="url(#blur2)"/>
<ellipse cx="640" cy="25.5" rx="14" ry="2.6" fill="#7a5418" opacity="0.42" filter="url(#blur2)"/>
<ellipse cx="657" cy="111.5" rx="14" ry="2.6" fill="#6b4a16" opacity="0.4" filter="url(#blur2)"/>
<ellipse cx="700" cy="25.5" rx="10" ry="2.6" fill="#7a5418" opacity="0.42" filter="url(#blur2)"/>
<ellipse cx="717" cy="111.5" rx="10" ry="2.6" fill="#6b4a16" opacity="0.4" filter="url(#blur2)"/>
<ellipse cx="752" cy="25.5" rx="14" ry="2.6" fill="#7a5418" opacity="0.42" filter="url(#blur2)"/>
<ellipse cx="769" cy="111.5" rx="14" ry="2.6" fill="#6b4a16" opacity="0.4" filter="url(#blur2)"/>
<ellipse cx="805" cy="25.5" rx="10" ry="2.6" fill="#7a5418" opacity="0.42" filter="url(#blur2)"/>
<ellipse cx="822" cy="111.5" rx="10" ry="2.6" fill="#6b4a16" opacity="0.4" filter="url(#blur2)"/>
<ellipse cx="845" cy="25.5" rx="12" ry="2.6" fill="#7a5418" opacity="0.42" filter="url(#blur2)"/>
<ellipse cx="862" cy="111.5" rx="12" ry="2.6" fill="#6b4a16" opacity="0.4" filter="url(#blur2)"/>
</g>
<line x1="375" y1="16" x2="375" y2="37" stroke="#e0101a" stroke-width="1.8"/>
<line x1="818.8" y1="22" x2="818.8" y2="42.8" stroke="#e0101a" stroke-width="1.8"/>
<line x1="390" y1="28.2" x2="800" y2="28.2" stroke="#e0101a" stroke-width="1.7"/>
<polygon points="375.8,28.2 396.5,23.6 396.5,32.8" fill="#e0101a"/>
<polygon points="818,28.2 795.6,23.6 795.6,32.8" fill="#e0101a"/>
<polygon points="489.0,48.4 506.8,60.4 504.3,64.2 521.0,68.0 511.2,53.9 508.7,57.6 491.0,45.6" fill="#ffde00"/>
<polygon points="540.6,44.9 556.4,55.9 553.8,59.6 570.5,63.6 560.9,49.4 558.3,53.1 542.6,42.1" fill="#ffde00"/>
<polygon points="578.8,44.9 594.6,55.9 592.0,59.6 608.7,63.6 599.1,49.4 596.5,53.1 580.8,42.1" fill="#ffde00"/>
<polygon points="637.0,46.4 652.8,57.1 650.3,60.8 667.0,64.7 657.2,50.6 654.7,54.3 639.0,43.6" fill="#ffde00"/>
<polygon points="694.0,48.8 710.8,60.3 708.3,64.1 725.0,68.0 715.3,53.8 712.8,57.5 696.0,46.0" fill="#ffde00"/>
<text x="343.5" y="43.8" font-size="22" class="b" fill="#fff">b</text>
<text x="349.5" y="72.2" font-size="21" class="b" fill="#0d0804" textLength="34.5" lengthAdjust="spacingAndGlyphs">BM</text>
<text x="825.5" y="72.2" font-size="21" class="b" fill="#0d0804" textLength="33" lengthAdjust="spacingAndGlyphs">BM</text>
<text x="590.3" y="23.6" font-size="20.5" class="b" fill="#0d0804" textLength="29" lengthAdjust="spacingAndGlyphs">SZ</text>
</g>
<!-- PC -->
<g id="pc">
<defs>
<filter id="semc" x="0" y="0" width="100%" height="100%" color-interpolation-filters="sRGB">
<feTurbulence type="fractalNoise" baseFrequency="0.3" numOctaves="2" seed="3" result="n"/>
<feColorMatrix in="n" type="matrix" values="0.34 0 0 0 0.09  0.34 0 0 0 0.09  0.34 0 0 0 0.09  0 0 0 0 1" result="g"/>
<feTurbulence type="fractalNoise" baseFrequency="0.06" numOctaves="2" seed="11" result="n2"/>
<feColorMatrix in="n2" type="matrix" values="0.35 0 0 0 -0.175  0.35 0 0 0 -0.175  0.35 0 0 0 -0.175  0 0 0 0 1" result="g2"/>
<feComposite in="g" in2="g2" operator="arithmetic" k1="0" k2="1" k3="1" k4="0"/>
</filter>
<filter id="spk" x="0" y="0" width="100%" height="100%" color-interpolation-filters="sRGB">
<feTurbulence type="fractalNoise" baseFrequency="0.33" numOctaves="1" seed="29" result="n"/>
<feColorMatrix in="n" type="matrix" values="0 0 0 0 1  0 0 0 0 1  0 0 0 0 1  9 0 0 0 -5.95"/>
</filter>
<clipPath id="cclip"><rect x="341.5" y="114.5" width="173.5" height="117"/></clipPath>
</defs>
<rect x="341.5" y="114.5" width="173.5" height="117" fill="#4a4a4a"/>
<rect x="341.5" y="114.5" width="173.5" height="117" filter="url(#semc)"/>
<g clip-path="url(#cclip)" fill="none" stroke="#8a8a8a" stroke-width="0.8" opacity="0.6">
<path d="M343.2,117.9 Q362.2,116.1 371.3,121.1"/>
<path d="M343.2,117.9 Q348.6,125.5 344.2,132.5"/>
<path d="M343.2,117.9 Q356.0,131.7 374.0,143.7"/>
<path d="M371.3,121.1 Q371.9,127.9 374.0,143.7"/>
<path d="M395.3,120.8 Q401.4,120.5 407.5,113.4"/>
<path d="M395.3,120.8 Q403.9,130.7 407.8,131.6"/>
<path d="M395.3,120.8 Q417.2,122.1 433.3,131.2"/>
<path d="M407.5,113.4 Q423.9,120.3 433.3,131.2"/>
<path d="M473.2,107.8 Q481.7,111.2 490.4,109.9"/>
<path d="M473.2,107.8 Q469.0,124.4 469.0,142.9"/>
<path d="M473.2,107.8 Q484.3,125.0 497.8,132.4"/>
<path d="M490.4,109.9 Q494.1,119.6 497.8,132.4"/>
<path d="M344.2,132.5 Q362.0,140.8 374.0,143.7"/>
<path d="M344.2,132.5 Q342.4,152.5 337.2,167.4"/>
<path d="M344.2,132.5 Q357.5,145.5 366.7,162.8"/>
<path d="M374.0,143.7 Q393.6,139.5 407.8,131.6"/>
<path d="M374.0,143.7 Q374.8,154.8 366.7,162.8"/>
<path d="M374.0,143.7 Q375.0,155.8 385.7,167.1"/>
<path d="M407.8,131.6 Q422.3,131.0 433.3,131.2"/>
<path d="M407.8,131.6 Q416.6,148.0 419.4,167.5"/>
<path d="M433.3,131.2 Q446.6,134.4 455.1,131.0"/>
<path d="M433.3,131.2 Q429.8,153.0 419.4,167.5"/>
<path d="M433.3,131.2 Q445.5,148.6 448.1,156.8"/>
<path d="M455.1,131.0 Q462.4,133.6 469.0,142.9"/>
<path d="M469.0,142.9 Q485.3,139.9 497.8,132.4"/>
<path d="M469.0,142.9 Q463.0,151.6 463.5,154.7"/>
<path d="M469.0,142.9 Q478.5,147.2 484.6,153.0"/>
<path d="M497.8,132.4 Q520.0,139.1 536.7,143.0"/>
<path d="M497.8,132.4 Q486.5,139.3 484.6,153.0"/>
<path d="M497.8,132.4 Q506.6,144.2 512.4,161.6"/>
<path d="M536.7,143.0 Q520.0,152.0 512.4,161.6"/>
<path d="M337.2,167.4 Q348.3,163.3 366.7,162.8"/>
<path d="M337.2,167.4 Q337.6,172.0 344.1,185.8"/>
<path d="M337.2,167.4 Q354.9,174.8 375.1,180.0"/>
<path d="M366.7,162.8 Q373.6,169.0 385.7,167.1"/>
<path d="M366.7,162.8 Q369.9,169.2 375.1,180.0"/>
<path d="M385.7,167.1 Q405.9,166.0 419.4,167.5"/>
<path d="M385.7,167.1 Q398.3,170.8 408.7,182.7"/>
<path d="M385.7,167.1 Q403.6,175.7 424.7,182.7"/>
<path d="M419.4,167.5 Q441.2,173.1 456.7,175.9"/>
<path d="M448.1,156.8 Q452.2,156.7 463.5,154.7"/>
<path d="M448.1,156.8 Q457.0,171.0 456.7,175.9"/>
<path d="M448.1,156.8 Q465.8,170.0 486.6,175.4"/>
<path d="M463.5,154.7 Q470.1,154.5 484.6,153.0"/>
<path d="M463.5,154.7 Q471.4,166.3 486.6,175.4"/>
<path d="M484.6,153.0 Q497.8,154.6 512.4,161.6"/>
<path d="M484.6,153.0 Q500.8,169.6 507.5,188.5"/>
<path d="M512.4,161.6 Q513.5,179.4 519.3,187.6"/>
<path d="M344.1,185.8 Q357.8,187.7 375.1,180.0"/>
<path d="M344.1,185.8 Q339.2,196.3 338.6,207.3"/>
<path d="M344.1,185.8 Q351.8,191.7 357.2,198.7"/>
<path d="M375.1,180.0 Q394.7,184.6 408.7,182.7"/>
<path d="M375.1,180.0 Q366.4,187.1 357.2,198.7"/>
<path d="M408.7,182.7 Q394.7,194.5 385.3,213.3"/>
<path d="M424.7,182.7 Q441.8,179.1 456.7,175.9"/>
<path d="M424.7,182.7 Q418.6,198.8 410.5,210.1"/>
<path d="M424.7,182.7 Q439.3,195.9 448.7,213.1"/>
<path d="M456.7,175.9 Q470.0,173.6 486.6,175.4"/>
<path d="M456.7,175.9 Q452.4,193.1 448.7,213.1"/>
<path d="M456.7,175.9 Q460.8,185.2 463.2,203.7"/>
<path d="M486.6,175.4 Q496.6,186.1 507.5,188.5"/>
<path d="M486.6,175.4 Q484.1,195.7 491.4,210.4"/>
<path d="M507.5,188.5 Q514.2,190.1 519.3,187.6"/>
<path d="M507.5,188.5 Q499.3,203.6 491.4,210.4"/>
<path d="M507.5,188.5 Q507.1,202.8 508.9,210.0"/>
<path d="M519.3,187.6 Q517.4,194.4 508.9,210.0"/>
<path d="M338.6,207.3 Q347.2,200.9 357.2,198.7"/>
<path d="M357.2,198.7 Q371.0,206.5 385.3,213.3"/>
<path d="M357.2,198.7 Q361.7,214.0 369.7,236.1"/>
<path d="M357.2,198.7 Q379.5,208.3 395.6,226.5"/>
<path d="M385.3,213.3 Q401.1,214.6 410.5,210.1"/>
<path d="M385.3,213.3 Q385.7,222.1 395.6,226.5"/>
<path d="M410.5,210.1 Q415.8,226.3 430.0,235.7"/>
<path d="M410.5,210.1 Q431.8,227.5 450.1,235.8"/>
<path d="M448.7,213.1 Q452.3,206.3 463.2,203.7"/>
<path d="M448.7,213.1 Q464.9,218.7 478.8,226.0"/>
<path d="M463.2,203.7 Q478.5,202.5 491.4,210.4"/>
<path d="M463.2,203.7 Q469.8,210.6 478.8,226.0"/>
<path d="M463.2,203.7 Q482.2,216.2 499.7,223.8"/>
<path d="M491.4,210.4 Q494.9,215.3 499.7,223.8"/>
<path d="M491.4,210.4 Q505.8,221.3 520.4,223.4"/>
<path d="M508.9,210.0 Q516.6,213.2 520.4,223.4"/>
<path d="M358.4,234.8 Q364.1,239.5 369.7,236.1"/>
<path d="M369.7,236.1 Q383.9,228.9 395.6,226.5"/>
<path d="M395.6,226.5 Q410.4,233.6 430.0,235.7"/>
<path d="M430.0,235.7 Q436.4,233.1 450.1,235.8"/>
<path d="M450.1,235.8 Q466.8,227.7 478.8,226.0"/>
<path d="M478.8,226.0 Q490.8,220.8 499.7,223.8"/>
<path d="M499.7,223.8 Q506.0,219.9 520.4,223.4"/>
</g>
<rect x="341.5" y="114.5" width="173.5" height="117" filter="url(#spk)" opacity="0.9"/>
<g clip-path="url(#cclip)" fill="#f4f4f4">
<ellipse cx="404.0" cy="148.0" rx="3.0" ry="2.0"/>
<ellipse cx="401.0" cy="153.0" rx="2.0" ry="1.5"/>
<ellipse cx="359.0" cy="150.0" rx="2.0" ry="1.3"/>
<ellipse cx="433.0" cy="170.0" rx="2.2" ry="1.6"/>
<ellipse cx="394.0" cy="177.0" rx="1.6" ry="1.6"/>
<ellipse cx="381.0" cy="185.0" rx="1.8" ry="2.2"/>
<ellipse cx="463.0" cy="203.0" rx="4.5" ry="2.0"/>
<ellipse cx="465.0" cy="208.0" rx="3.0" ry="1.5"/>
<ellipse cx="356.0" cy="167.0" rx="2.0" ry="1.0"/>
<ellipse cx="488.0" cy="149.0" rx="2.2" ry="1.4"/>
<ellipse cx="505.0" cy="132.0" rx="1.8" ry="1.3"/>
<ellipse cx="500.0" cy="177.0" rx="2.5" ry="1.3"/>
<ellipse cx="497.0" cy="204.0" rx="2.0" ry="1.3"/>
<ellipse cx="370.0" cy="204.0" rx="1.5" ry="1.5"/>
<ellipse cx="417.0" cy="196.0" rx="1.3" ry="1.3"/>
<ellipse cx="385.0" cy="128.0" rx="1.5" ry="1.0"/>
<ellipse cx="419.0" cy="141.0" rx="1.3" ry="2.0"/>
<ellipse cx="367.0" cy="133.0" rx="1.3" ry="1.3"/>
</g>
<text x="344.3" y="131" font-size="21" class="b" fill="#fff">c</text>
<text x="459.5" y="164" font-size="16" class="b" fill="#e01818" textLength="10" lengthAdjust="spacingAndGlyphs">β</text>
<text x="468.5" y="183" font-size="15" class="b" fill="#e01818" textLength="11" lengthAdjust="spacingAndGlyphs">α</text>
<circle cx="485.5" cy="197" r="10.3" fill="none" stroke="#f2c80c" stroke-width="2"/>
<text x="485.5" y="203.3" font-size="18" fill="#f2c80c" stroke="#f2c80c" stroke-width="0.5" text-anchor="middle" style="font-family:'Liberation Serif',serif">1</text>
<ellipse cx="463.3" cy="204.2" rx="10.3" ry="9.3" fill="none" stroke="#f2c80c" stroke-width="2.1" stroke-dasharray="5 3"/>
<text x="342.5" y="224" font-size="16" class="b" fill="#fff" textLength="41.5" lengthAdjust="spacingAndGlyphs">10μm</text>
<rect x="354" y="227.4" width="8.2" height="2.8" fill="#fff"/>
<text x="479.5" y="230.3" font-size="21" class="b" fill="#fff" textLength="35" lengthAdjust="spacingAndGlyphs">BM</text>
</g>
<!-- PD -->
<g id="pd">
<defs>
<filter id="semd" x="0" y="0" width="100%" height="100%" color-interpolation-filters="sRGB">
<feTurbulence type="fractalNoise" baseFrequency="0.6" numOctaves="2" seed="8" result="n"/>
<feColorMatrix in="n" type="matrix" values="0.75 0 0 0 -0.02  0.75 0 0 0 -0.02  0.75 0 0 0 -0.02  0 0 0 0 1"/>
</filter>
<filter id="semi" x="0" y="0" width="100%" height="100%" color-interpolation-filters="sRGB">
<feTurbulence type="fractalNoise" baseFrequency="0.17" numOctaves="2" seed="14" result="n"/>
<feColorMatrix in="n" type="matrix" values="0.95 0 0 0 -0.185  0.95 0 0 0 -0.185  0.95 0 0 0 -0.185  0 0 0 0 1"/>
</filter>
<filter id="spkd" x="0" y="0" width="100%" height="100%" color-interpolation-filters="sRGB">
<feTurbulence type="fractalNoise" baseFrequency="0.6" numOctaves="1" seed="41" result="n"/>
<feColorMatrix in="n" type="matrix" values="0 0 0 0 1  0 0 0 0 1  0 0 0 0 1  9 0 0 0 -6.0"/>
</filter>
</defs>
<rect x="518.5" y="114.5" width="174" height="117" fill="#585858"/>
<rect x="518.5" y="114.5" width="174" height="117" filter="url(#semd)"/>
<rect x="518.5" y="114.5" width="174" height="117" filter="url(#spkd)" opacity="0.3"/>
<rect x="592.2" y="114.5" width="100.3" height="67.7" fill="#4e4e4e"/>
<rect x="592.2" y="114.5" width="100.3" height="67.7" filter="url(#semi)"/>
<rect x="592.5" y="115" width="99.3" height="67" fill="none" stroke="#e0e0e0" stroke-width="1"/>
<circle cx="634.0" cy="173.5" r="2.2" fill="#f4f4f4"/>
<circle cx="667.0" cy="166.0" r="2.2" fill="#f4f4f4"/>
<circle cx="617.0" cy="133.0" r="1.2" fill="#f4f4f4"/>
<circle cx="650.0" cy="150.0" r="1.1" fill="#f4f4f4"/>
<circle cx="680.0" cy="140.0" r="1.2" fill="#f4f4f4"/>
<text x="519.5" y="131" font-size="21" class="b" fill="#fff">d</text>
<circle cx="580" cy="136" r="10.2" fill="none" stroke="#f2c80c" stroke-width="2"/>
<text x="580" y="142" font-size="18" fill="#f2c80c" stroke="#f2c80c" stroke-width="0.5" text-anchor="middle" style="font-family:'Liberation Serif',serif">2</text>
<ellipse cx="601" cy="141.5" rx="5.2" ry="4.6" fill="none" stroke="#f2c80c" stroke-width="2" stroke-dasharray="4 2.5"/>
<text x="658.5" y="135.3" font-size="17.5" class="b" fill="#e01818" textLength="9.5" lengthAdjust="spacingAndGlyphs">β</text>
<text x="674" y="120.3" font-size="15" class="b" fill="#e01818" textLength="10.5" lengthAdjust="spacingAndGlyphs">α</text>
<text x="593.7" y="174.8" font-size="13" class="b" fill="#fff" textLength="29" lengthAdjust="spacingAndGlyphs">2μm</text>
<rect x="604.2" y="177.5" width="7" height="2.2" fill="#fff"/>
<text x="520.5" y="224" font-size="16" class="b" fill="#fff" textLength="41.5" lengthAdjust="spacingAndGlyphs">10μm</text>
<rect x="533.8" y="227.4" width="7.2" height="2.8" fill="#fff"/>
<text x="663.5" y="230.3" font-size="21" class="b" fill="#fff" textLength="27.5" lengthAdjust="spacingAndGlyphs">SZ</text>
</g>
<!-- PE -->
<g id="pe">
<defs>
<linearGradient id="ebg" x1="0" x2="0" y1="0" y2="1"><stop offset="0" stop-color="#fbcfca"/><stop offset="0.55" stop-color="#fde9e6"/><stop offset="1" stop-color="#ffffff"/></linearGradient>
<linearGradient id="ablue" x1="0" x2="0" y1="0" y2="1"><stop offset="0" stop-color="#7f9fca"/><stop offset="0.5" stop-color="#b4c2d6"/><stop offset="1" stop-color="#dcdcdc"/></linearGradient>
<linearGradient id="bred" x1="0" x2="0" y1="0" y2="1"><stop offset="0" stop-color="#e37878"/><stop offset="0.5" stop-color="#dcaeb0"/><stop offset="1" stop-color="#dcdcdc"/></linearGradient>
<pattern id="dots" width="1.6" height="1.6" patternUnits="userSpaceOnUse"><rect x="0" y="0" width="0.7" height="0.7" fill="#555" opacity="0.35"/></pattern>
</defs>
<rect x="722.3" y="119.2" width="137.7" height="106.2" fill="url(#ebg)" stroke="#8a8a8a" stroke-width="0.8"/>
<line x1="722.3" y1="119.2" x2="722.3" y2="225.4" stroke="#333" stroke-width="0.9"/>
<line x1="722.3" y1="225.4" x2="860.0" y2="225.4" stroke="#333" stroke-width="0.9"/>
<line x1="719.8" y1="225.4" x2="722.3" y2="225.4" stroke="#333" stroke-width="0.8"/>
<text x="719.1" y="229.3" font-size="10.2" class="b" fill="#111" text-anchor="end">0</text>
<line x1="719.8" y1="202.3" x2="722.3" y2="202.3" stroke="#333" stroke-width="0.8"/>
<text x="719.1" y="206.2" font-size="10.2" class="b" fill="#111" text-anchor="end">5</text>
<line x1="719.8" y1="179.2" x2="722.3" y2="179.2" stroke="#333" stroke-width="0.8"/>
<text x="719.1" y="183.1" font-size="10.2" class="b" fill="#111" text-anchor="end">10</text>
<line x1="719.8" y1="156.1" x2="722.3" y2="156.1" stroke="#333" stroke-width="0.8"/>
<text x="719.1" y="160.0" font-size="10.2" class="b" fill="#111" text-anchor="end">15</text>
<line x1="719.8" y1="133.0" x2="722.3" y2="133.0" stroke="#333" stroke-width="0.8"/>
<text x="719.1" y="136.9" font-size="10.2" class="b" fill="#111" text-anchor="end">20</text>
<line x1="720.9" y1="213.8" x2="722.3" y2="213.8" stroke="#333" stroke-width="0.6"/>
<line x1="720.9" y1="190.8" x2="722.3" y2="190.8" stroke="#333" stroke-width="0.6"/>
<line x1="720.9" y1="167.7" x2="722.3" y2="167.7" stroke="#333" stroke-width="0.6"/>
<line x1="720.9" y1="144.6" x2="722.3" y2="144.6" stroke="#333" stroke-width="0.6"/>
<line x1="720.9" y1="121.5" x2="722.3" y2="121.5" stroke="#333" stroke-width="0.6"/>
<line x1="757.0" y1="225.4" x2="757.0" y2="227.9" stroke="#333" stroke-width="0.8"/>
<line x1="825.3" y1="225.4" x2="825.3" y2="227.9" stroke="#333" stroke-width="0.8"/>
<rect x="739.8" y="181.0" width="17.0" height="44.4" fill="url(#ablue)"/><rect x="739.8" y="181.0" width="17.0" height="44.4" fill="url(#dots)" stroke="#4a4a4a" stroke-width="0.8"/><line x1="748.3" y1="162.0" x2="748.3" y2="201.3" stroke="#333" stroke-width="0.8"/><line x1="746.8" y1="162.0" x2="749.8" y2="162.0" stroke="#333" stroke-width="0.8"/><line x1="746.8" y1="201.3" x2="749.8" y2="201.3" stroke="#333" stroke-width="0.8"/>
<rect x="756.8" y="155.6" width="17.2" height="69.8" fill="url(#bred)"/><rect x="756.8" y="155.6" width="17.2" height="69.8" fill="url(#dots)" stroke="#4a4a4a" stroke-width="0.8"/><line x1="765.4" y1="134.0" x2="765.4" y2="175.5" stroke="#333" stroke-width="0.8"/><line x1="763.9" y1="134.0" x2="766.9" y2="134.0" stroke="#333" stroke-width="0.8"/><line x1="763.9" y1="175.5" x2="766.9" y2="175.5" stroke="#333" stroke-width="0.8"/>
<rect x="808.0" y="208.3" width="17.2" height="17.1" fill="url(#ablue)"/><rect x="808.0" y="208.3" width="17.2" height="17.1" fill="url(#dots)" stroke="#4a4a4a" stroke-width="0.8"/><line x1="816.6" y1="204.4" x2="816.6" y2="212.2" stroke="#333" stroke-width="0.8"/><line x1="815.1" y1="204.4" x2="818.1" y2="204.4" stroke="#333" stroke-width="0.8"/><line x1="815.1" y1="212.2" x2="818.1" y2="212.2" stroke="#333" stroke-width="0.8"/>
<rect x="825.2" y="206.5" width="17.3" height="18.9" fill="url(#bred)"/><rect x="825.2" y="206.5" width="17.3" height="18.9" fill="url(#dots)" stroke="#4a4a4a" stroke-width="0.8"/><line x1="833.9" y1="200.7" x2="833.9" y2="212.7" stroke="#333" stroke-width="0.8"/><line x1="832.4" y1="200.7" x2="835.4" y2="200.7" stroke="#333" stroke-width="0.8"/><line x1="832.4" y1="212.7" x2="835.4" y2="212.7" stroke="#333" stroke-width="0.8"/>
<text x="746.0" y="161.3" font-size="11.0" class="b" fill="#111" text-anchor="middle">9.6</text>
<text x="767.2" y="135.2" font-size="11.0" class="b" fill="#111" text-anchor="middle">15.1</text>
<text x="815.0" y="204.0" font-size="11.0" class="b" fill="#111" text-anchor="middle">3.7</text>
<text x="833.7" y="201.8" font-size="11.0" class="b" fill="#111" text-anchor="middle">4.1</text>
<text x="757.2" y="237.3" font-size="10.8" class="b" fill="#111" text-anchor="middle">BM</text>
<text x="825.3" y="237.3" font-size="10.8" class="b" fill="#111" text-anchor="middle">SZ</text>
<rect x="794.4" y="121.4" width="22.8" height="11.6" fill="url(#ablue)"/><rect x="794.4" y="121.4" width="22.8" height="11.6" fill="url(#dots)" stroke="#4a4a4a" stroke-width="0.8"/>
<rect x="794.4" y="134.3" width="22.8" height="11.2" fill="url(#bred)"/><rect x="794.4" y="134.3" width="22.8" height="11.2" fill="url(#dots)" stroke="#4a4a4a" stroke-width="0.8"/>
<text x="821.0" y="131.0" font-size="11.0" class="b" fill="#111" text-anchor="start">α grain</text>
<text x="821.0" y="144.0" font-size="11.0" class="b" fill="#111" text-anchor="start">β grain</text>
<text transform="translate(703.5,173.5) rotate(-90)" font-size="11" class="b" fill="#111" text-anchor="middle" textLength="75" lengthAdjust="spacingAndGlyphs">Grain size (μm)</text>
<text x="694.3" y="131.8" font-size="21.5" class="b" fill="#111">e</text>
</g>
<!-- PF -->
<g id="pf">
<defs>
<filter id="fMg" x="0" y="0" width="100%" height="100%" color-interpolation-filters="sRGB">
<feTurbulence type="fractalNoise" baseFrequency="0.45" numOctaves="2" seed="2" result="n"/>
<feColorMatrix in="n" type="matrix" values="0.279 0 0 0 0.790  0.006 0 0 0 0.017  0.006 0 0 0 0.017  0 0 0 0 1"/>
</filter>
<filter id="fAl" x="0" y="0" width="100%" height="100%" color-interpolation-filters="sRGB">
<feTurbulence type="fractalNoise" baseFrequency="0.5" numOctaves="2" seed="4" result="n"/>
<feColorMatrix in="n" type="matrix" values="0.048 0 0 0 -0.020  0.352 0 0 0 -0.150  0.048 0 0 0 -0.020  0 0 0 0 1"/>
</filter>
<filter id="fZn" x="0" y="0" width="100%" height="100%" color-interpolation-filters="sRGB">
<feTurbulence type="fractalNoise" baseFrequency="0.45" numOctaves="2" seed="6" result="n"/>
<feColorMatrix in="n" type="matrix" values="0.081 0 0 0 0.004  0.378 0 0 0 0.021  0.486 0 0 0 0.027  0 0 0 0 1"/>
</filter>
<filter id="fO" x="0" y="0" width="100%" height="100%" color-interpolation-filters="sRGB">
<feTurbulence type="fractalNoise" baseFrequency="0.45" numOctaves="2" seed="9" result="n"/>
<feColorMatrix in="n" type="matrix" values="0.615 0 0 0 0.102  0.090 0 0 0 0.015  0.600 0 0 0 0.100  0 0 0 0 1"/>
</filter>
<filter id="gMg" x="0" y="0" width="100%" height="100%" color-interpolation-filters="sRGB">
<feTurbulence type="fractalNoise" baseFrequency="0.45" numOctaves="2" seed="12" result="n"/>
<feColorMatrix in="n" type="matrix" values="0.241 0 0 0 0.740  0.008 0 0 0 0.026  0.008 0 0 0 0.026  0 0 0 0 1"/>
</filter>
<filter id="gAl" x="0" y="0" width="100%" height="100%" color-interpolation-filters="sRGB">
<feTurbulence type="fractalNoise" baseFrequency="0.5" numOctaves="2" seed="14" result="n"/>
<feColorMatrix in="n" type="matrix" values="0.080 0 0 0 -0.029  0.480 0 0 0 -0.174  0.080 0 0 0 -0.029  0 0 0 0 1"/>
</filter>
<filter id="gZn" x="0" y="0" width="100%" height="100%" color-interpolation-filters="sRGB">
<feTurbulence type="fractalNoise" baseFrequency="0.5" numOctaves="2" seed="16" result="n"/>
<feColorMatrix in="n" type="matrix" values="0.105 0 0 0 0.018  0.615 0 0 0 0.102  0.795 0 0 0 0.133  0 0 0 0 1"/>
</filter>
<filter id="gO" x="0" y="0" width="100%" height="100%" color-interpolation-filters="sRGB">
<feTurbulence type="fractalNoise" baseFrequency="0.5" numOctaves="2" seed="19" result="n"/>
<feColorMatrix in="n" type="matrix" values="0.750 0 0 0 0.125  0.090 0 0 0 0.015  0.720 0 0 0 0.120  0 0 0 0 1"/>
</filter>
<filter id="fb1"><feGaussianBlur stdDeviation="0.7"/></filter>
<filter id="irr" x="-5%" y="-5%" width="110%" height="110%"><feTurbulence type="fractalNoise" baseFrequency="0.22" numOctaves="2" seed="33" result="t"/><feDisplacementMap in="SourceGraphic" in2="t" scale="8" xChannelSelector="R" yChannelSelector="G" result="d"/><feGaussianBlur in="d" stdDeviation="0.8"/></filter>
<filter id="fb2"><feGaussianBlur stdDeviation="5"/></filter>
</defs>
<rect x="361.0" y="244.4" width="118.0" height="87.8" fill="#e40a0a"/>
<rect x="361.0" y="244.4" width="118.0" height="87.8" filter="url(#fMg)"/>
<g filter="url(#irr)">
<ellipse cx="379.1" cy="271.4" rx="3.4" ry="2.2" fill="#3a0404" opacity="0.75"/>
<ellipse cx="385.0" cy="267.0" rx="1.6" ry="1.3" fill="#3a0404" opacity="0.75"/>
<ellipse cx="394.4" cy="295.1" rx="3.7" ry="2.4" fill="#3a0404" opacity="0.75"/>
<ellipse cx="408.6" cy="307.4" rx="4.2" ry="2.4" fill="#3a0404" opacity="0.75"/>
<ellipse cx="397.9" cy="310.9" rx="3.2" ry="1.8" fill="#3a0404" opacity="0.75"/>
<ellipse cx="423.9" cy="283.7" rx="3.6" ry="2.9" fill="#3a0404" opacity="0.75"/>
<ellipse cx="432.2" cy="265.2" rx="3.2" ry="2.8" fill="#3a0404" opacity="0.75"/>
<ellipse cx="421.5" cy="261.7" rx="2.3" ry="2.2" fill="#3a0404" opacity="0.75"/>
<ellipse cx="436.9" cy="295.1" rx="3.8" ry="2.4" fill="#3a0404" opacity="0.75"/>
<ellipse cx="449.9" cy="295.1" rx="2.7" ry="2.0" fill="#3a0404" opacity="0.75"/>
<ellipse cx="459.3" cy="281.9" rx="3.6" ry="2.4" fill="#3a0404" opacity="0.75"/>
<ellipse cx="467.6" cy="247.7" rx="2.6" ry="3.1" fill="#3a0404" opacity="0.75"/>
<ellipse cx="426.3" cy="318.8" rx="4.2" ry="3.3" fill="#3a0404" opacity="0.75"/>
<ellipse cx="418.0" cy="317.0" rx="2.5" ry="2.2" fill="#3a0404" opacity="0.75"/>
<ellipse cx="390.9" cy="288.1" rx="1.9" ry="1.8" fill="#3a0404" opacity="0.75"/>
<ellipse cx="364.9" cy="275.8" rx="1.7" ry="1.4" fill="#3a0404" opacity="0.75"/>
<ellipse cx="406.2" cy="247.7" rx="1.9" ry="1.3" fill="#3a0404" opacity="0.75"/>
<ellipse cx="445.1" cy="271.4" rx="1.9" ry="1.5" fill="#3a0404" opacity="0.75"/>
<ellipse cx="461.7" cy="323.2" rx="2.7" ry="2.2" fill="#3a0404" opacity="0.75"/>
<ellipse cx="432.2" cy="305.6" rx="1.7" ry="1.3" fill="#3a0404" opacity="0.75"/>
<ellipse cx="412.1" cy="288.1" rx="1.6" ry="1.5" fill="#3a0404" opacity="0.75"/>
<ellipse cx="370.8" cy="284.5" rx="1.6" ry="1.3" fill="#3a0404" opacity="0.75"/>
<ellipse cx="453.4" cy="310.9" rx="1.7" ry="1.4" fill="#3a0404" opacity="0.75"/>
</g>
<rect x="480.3" y="244.4" width="118.5" height="87.8" fill="#040904"/>
<rect x="480.3" y="244.4" width="118.5" height="87.8" filter="url(#fAl)"/>
<g filter="url(#irr)">
<ellipse cx="486.6" cy="279.3" rx="1.6" ry="1.7" fill="#2fd12a"/>
<ellipse cx="500.8" cy="290.7" rx="4.2" ry="2.5" fill="#2fd12a"/>
<ellipse cx="505.6" cy="286.3" rx="2.1" ry="1.8" fill="#2fd12a"/>
<ellipse cx="509.1" cy="315.3" rx="2.1" ry="1.7" fill="#2fd12a"/>
<ellipse cx="513.9" cy="296.8" rx="3.2" ry="2.6" fill="#2fd12a"/>
<ellipse cx="523.3" cy="308.2" rx="5.2" ry="2.4" fill="#2fd12a"/>
<ellipse cx="532.8" cy="306.5" rx="4.2" ry="2.8" fill="#2fd12a"/>
<ellipse cx="541.1" cy="286.3" rx="3.4" ry="3.3" fill="#2fd12a"/>
<ellipse cx="543.5" cy="295.1" rx="2.5" ry="2.4" fill="#2fd12a"/>
<ellipse cx="545.8" cy="263.5" rx="2.7" ry="2.6" fill="#2fd12a"/>
<ellipse cx="554.1" cy="265.2" rx="3.2" ry="3.1" fill="#2fd12a"/>
<ellipse cx="558.9" cy="295.1" rx="3.6" ry="2.0" fill="#2fd12a"/>
<ellipse cx="569.5" cy="273.1" rx="2.5" ry="1.8" fill="#2fd12a"/>
<ellipse cx="579.0" cy="325.8" rx="3.2" ry="2.2" fill="#2fd12a"/>
<ellipse cx="587.3" cy="246.8" rx="3.2" ry="2.9" fill="#2fd12a"/>
<ellipse cx="585.0" cy="281.9" rx="2.9" ry="1.8" fill="#2fd12a"/>
<ellipse cx="590.9" cy="283.7" rx="2.1" ry="1.5" fill="#2fd12a"/>
<ellipse cx="528.1" cy="247.7" rx="2.1" ry="1.3" fill="#2fd12a"/>
<ellipse cx="511.5" cy="254.7" rx="1.7" ry="1.3" fill="#2fd12a"/>
<ellipse cx="551.8" cy="317.0" rx="2.1" ry="1.3" fill="#2fd12a"/>
<ellipse cx="534.0" cy="319.7" rx="2.3" ry="1.5" fill="#2fd12a"/>
<ellipse cx="484.2" cy="261.7" rx="1.3" ry="1.3" fill="#2fd12a"/>
<ellipse cx="564.8" cy="255.6" rx="1.5" ry="1.3" fill="#2fd12a"/>
<ellipse cx="517.4" cy="277.5" rx="1.3" ry="1.3" fill="#2fd12a"/>
</g>
<rect x="361.0" y="334.3" width="118.0" height="87.8" fill="#123a4a"/>
<rect x="361.0" y="334.3" width="118.0" height="87.8" filter="url(#fZn)"/>
<g filter="url(#irr)">
<ellipse cx="380.2" cy="380.6" rx="3.0" ry="2.2" fill="#25c4ec"/>
<ellipse cx="385.0" cy="378.0" rx="1.5" ry="1.4" fill="#25c4ec"/>
<ellipse cx="396.8" cy="387.6" rx="2.5" ry="1.8" fill="#25c4ec"/>
<ellipse cx="410.9" cy="398.1" rx="3.8" ry="2.2" fill="#25c4ec"/>
<ellipse cx="402.7" cy="399.9" rx="2.5" ry="1.6" fill="#25c4ec"/>
<ellipse cx="423.9" cy="376.2" rx="2.3" ry="3.4" fill="#25c4ec"/>
<ellipse cx="425.1" cy="386.7" rx="2.5" ry="1.8" fill="#25c4ec"/>
<ellipse cx="427.4" cy="351.6" rx="2.1" ry="1.8" fill="#25c4ec"/>
<ellipse cx="436.9" cy="354.2" rx="2.7" ry="2.6" fill="#25c4ec"/>
<ellipse cx="441.6" cy="385.0" rx="2.8" ry="1.4" fill="#25c4ec"/>
<ellipse cx="448.7" cy="361.3" rx="2.1" ry="1.4" fill="#25c4ec"/>
<ellipse cx="465.2" cy="371.8" rx="2.8" ry="1.6" fill="#25c4ec"/>
<ellipse cx="471.1" cy="336.7" rx="1.9" ry="3.0" fill="#25c4ec"/>
<ellipse cx="414.5" cy="363.0" rx="1.3" ry="1.2" fill="#25c4ec"/>
<ellipse cx="390.9" cy="363.0" rx="1.1" ry="1.0" fill="#25c4ec"/>
<ellipse cx="456.9" cy="402.5" rx="1.3" ry="1.2" fill="#25c4ec"/>
<ellipse cx="373.2" cy="358.6" rx="1.1" ry="1.0" fill="#25c4ec"/>
</g>
<ellipse cx="425.9" cy="413.3" rx="14" ry="8" fill="#06141b" opacity="0.5" filter="url(#fb2)"/>
<rect x="480.3" y="334.3" width="118.5" height="87.8" fill="#6a1568"/>
<rect x="480.3" y="334.3" width="118.5" height="87.8" filter="url(#fO)"/>
<ellipse cx="553.8" cy="373.8" rx="12" ry="9" fill="#2a0629" opacity="0.55" filter="url(#fb2)"/>
<ellipse cx="545.5" cy="415.1" rx="9" ry="5" fill="#e42ae0" opacity="0.45" filter="url(#fb2)"/>
<text x="363.0" y="256.6" font-size="15.8" class="b" fill="#fff">Mg</text><text x="363.0" y="326.6" font-size="11.4" class="b" fill="#fff" textLength="29.6" lengthAdjust="spacingAndGlyphs">10μm</text><rect x="371.0" y="329.4" width="8" height="2.6" fill="#fff"/>
<text x="482.3" y="256.6" font-size="15.8" class="b" fill="#fff">Al</text><text x="482.3" y="326.6" font-size="11.4" class="b" fill="#fff" textLength="29.6" lengthAdjust="spacingAndGlyphs">10μm</text><rect x="490.3" y="329.4" width="8" height="2.6" fill="#fff"/>
<text x="363.0" y="346.5" font-size="15.8" class="b" fill="#fff">Zn</text><text x="363.0" y="416.5" font-size="11.4" class="b" fill="#fff" textLength="29.6" lengthAdjust="spacingAndGlyphs">10μm</text><rect x="371.0" y="419.3" width="8" height="2.6" fill="#fff"/>
<text x="482.3" y="346.5" font-size="15.8" class="b" fill="#fff">O</text><text x="482.3" y="416.5" font-size="11.4" class="b" fill="#fff" textLength="29.6" lengthAdjust="spacingAndGlyphs">10μm</text><rect x="490.3" y="419.3" width="8" height="2.6" fill="#fff"/>
<rect x="358.6" y="241.4" width="242.4" height="182.7" fill="none" stroke="#d8141c" stroke-width="1.8" stroke-dasharray="6.5 2.8"/>
<text x="341.8" y="257" font-size="22.5" class="b" fill="#111">f</text>
</g>
<!-- PG -->
<g id="pg">
<rect x="621.0" y="244.4" width="117.8" height="87.8" fill="#d40c0c"/>
<rect x="621.0" y="244.4" width="117.8" height="87.8" filter="url(#gMg)"/>
<circle cx="723.5" cy="287.4" r="1.8" fill="#3a0505" opacity="0.85" filter="url(#fb1)"/>
<circle cx="697.6" cy="312.9" r="1.2" fill="#3a0505" opacity="0.85" filter="url(#fb1)"/>
<circle cx="694.0" cy="258.4" r="0.9" fill="#3a0505" opacity="0.85" filter="url(#fb1)"/>
<circle cx="668.1" cy="263.7" r="0.8" fill="#3a0505" opacity="0.85" filter="url(#fb1)"/>
<circle cx="715.2" cy="305.9" r="0.8" fill="#3a0505" opacity="0.85" filter="url(#fb1)"/>
<rect x="740.6" y="244.4" width="119.0" height="87.8" fill="#0a160a"/>
<rect x="740.6" y="244.4" width="119.0" height="87.8" filter="url(#gAl)"/>
<circle cx="842.9" cy="286.5" r="2.2" fill="#35d630" filter="url(#fb1)"/>
<circle cx="840.6" cy="288.3" r="1.4" fill="#35d630" filter="url(#fb1)"/>
<circle cx="814.4" cy="256.7" r="1.1" fill="#35d630" filter="url(#fb1)"/>
<circle cx="798.9" cy="262.8" r="1.0" fill="#35d630" filter="url(#fb1)"/>
<circle cx="785.8" cy="265.5" r="0.9" fill="#35d630" filter="url(#fb1)"/>
<circle cx="789.4" cy="297.1" r="1.1" fill="#35d630" filter="url(#fb1)"/>
<circle cx="814.4" cy="307.6" r="1.1" fill="#35d630" filter="url(#fb1)"/>
<circle cx="837.0" cy="307.6" r="1.0" fill="#35d630" filter="url(#fb1)"/>
<circle cx="819.1" cy="314.6" r="1.0" fill="#35d630" filter="url(#fb1)"/>
<circle cx="768.0" cy="247.9" r="0.9" fill="#35d630" filter="url(#fb1)"/>
<circle cx="748.9" cy="305.9" r="0.8" fill="#35d630" filter="url(#fb1)"/>
<rect x="621.0" y="334.3" width="117.8" height="87.8" fill="#1c6a88"/>
<rect x="621.0" y="334.3" width="117.8" height="87.8" filter="url(#gZn)"/>
<circle cx="723.5" cy="375.6" r="2.2" fill="#3fd6f6" filter="url(#fb1)"/>
<circle cx="695.2" cy="346.6" r="1.2" fill="#3fd6f6" filter="url(#fb1)"/>
<circle cx="679.9" cy="352.7" r="1.0" fill="#3fd6f6" filter="url(#fb1)"/>
<circle cx="665.8" cy="355.4" r="1.2" fill="#3fd6f6" filter="url(#fb1)"/>
<circle cx="670.5" cy="387.0" r="1.0" fill="#3fd6f6" filter="url(#fb1)"/>
<circle cx="698.7" cy="404.5" r="1.3" fill="#3fd6f6" filter="url(#fb1)"/>
<circle cx="715.2" cy="392.2" r="1.0" fill="#3fd6f6" filter="url(#fb1)"/>
<circle cx="650.5" cy="375.6" r="0.9" fill="#3fd6f6" filter="url(#fb1)"/>
<rect x="740.6" y="334.3" width="119.0" height="87.8" fill="#80187e"/>
<rect x="740.6" y="334.3" width="119.0" height="87.8" filter="url(#gO)"/>
<text x="623.0" y="256.6" font-size="15.8" class="b" fill="#fff">Mg</text><text x="623.0" y="326.6" font-size="11.4" class="b" fill="#fff" textLength="29.6" lengthAdjust="spacingAndGlyphs">10μm</text><rect x="631.0" y="329.4" width="8" height="2.6" fill="#fff"/>
<text x="742.6" y="256.6" font-size="15.8" class="b" fill="#fff">Al</text><text x="742.6" y="326.6" font-size="11.4" class="b" fill="#fff" textLength="29.6" lengthAdjust="spacingAndGlyphs">10μm</text><rect x="750.6" y="329.4" width="8" height="2.6" fill="#fff"/>
<text x="623.0" y="346.5" font-size="15.8" class="b" fill="#fff">Zn</text><text x="623.0" y="416.5" font-size="11.4" class="b" fill="#fff" textLength="29.6" lengthAdjust="spacingAndGlyphs">10μm</text><rect x="631.0" y="419.3" width="8" height="2.6" fill="#fff"/>
<text x="742.6" y="346.5" font-size="15.8" class="b" fill="#fff">O</text><text x="742.6" y="416.5" font-size="11.4" class="b" fill="#fff" textLength="29.6" lengthAdjust="spacingAndGlyphs">10μm</text><rect x="750.6" y="419.3" width="8" height="2.6" fill="#fff"/>
<rect x="618.2" y="241.4" width="243.6" height="182.7" fill="none" stroke="#d8141c" stroke-width="1.8" stroke-dasharray="6.5 2.8"/>
<text x="603.3" y="251.8" font-size="22.5" class="b" fill="#111">g</text>
</g>
<!-- PH -->
<g id="ph">
<rect x="65.7" y="430.8" width="369.1" height="124.2" fill="#fff" stroke="#555" stroke-width="0.9"/>
<line x1="62.7" y1="555.0" x2="65.7" y2="555.0" stroke="#444" stroke-width="0.8"/>
<text x="60.7" y="559.1" font-size="11.5" class="b" fill="#111" text-anchor="end">0</text>
<line x1="63.9" y1="542.6" x2="65.7" y2="542.6" stroke="#444" stroke-width="0.8"/>
<line x1="62.7" y1="530.1" x2="65.7" y2="530.1" stroke="#444" stroke-width="0.8"/>
<text x="60.7" y="534.2" font-size="11.5" class="b" fill="#111" text-anchor="end">10</text>
<line x1="63.9" y1="517.7" x2="65.7" y2="517.7" stroke="#444" stroke-width="0.8"/>
<line x1="62.7" y1="505.3" x2="65.7" y2="505.3" stroke="#444" stroke-width="0.8"/>
<text x="60.7" y="509.4" font-size="11.5" class="b" fill="#111" text-anchor="end">20</text>
<line x1="63.9" y1="492.9" x2="65.7" y2="492.9" stroke="#444" stroke-width="0.8"/>
<line x1="62.7" y1="480.4" x2="65.7" y2="480.4" stroke="#444" stroke-width="0.8"/>
<text x="60.7" y="484.5" font-size="11.5" class="b" fill="#111" text-anchor="end">30</text>
<line x1="63.9" y1="468.0" x2="65.7" y2="468.0" stroke="#444" stroke-width="0.8"/>
<line x1="62.7" y1="455.6" x2="65.7" y2="455.6" stroke="#444" stroke-width="0.8"/>
<text x="60.7" y="459.7" font-size="11.5" class="b" fill="#111" text-anchor="end">40</text>
<line x1="63.9" y1="443.1" x2="65.7" y2="443.1" stroke="#444" stroke-width="0.8"/>
<line x1="62.7" y1="430.7" x2="65.7" y2="430.7" stroke="#444" stroke-width="0.8"/>
<text x="60.7" y="434.8" font-size="11.5" class="b" fill="#111" text-anchor="end">50</text>
<line x1="65.7" y1="555.0" x2="65.7" y2="558.0" stroke="#444" stroke-width="0.8"/>
<text x="65.7" y="570.8" font-size="11.5" class="b" fill="#111" text-anchor="middle">0</text>
<line x1="114.5" y1="555.0" x2="114.5" y2="556.8" stroke="#444" stroke-width="0.8"/>
<line x1="163.3" y1="555.0" x2="163.3" y2="558.0" stroke="#444" stroke-width="0.8"/>
<text x="163.3" y="570.8" font-size="11.5" class="b" fill="#111" text-anchor="middle">4</text>
<line x1="212.1" y1="555.0" x2="212.1" y2="556.8" stroke="#444" stroke-width="0.8"/>
<line x1="260.9" y1="555.0" x2="260.9" y2="558.0" stroke="#444" stroke-width="0.8"/>
<text x="260.9" y="570.8" font-size="11.5" class="b" fill="#111" text-anchor="middle">8</text>
<line x1="309.7" y1="555.0" x2="309.7" y2="556.8" stroke="#444" stroke-width="0.8"/>
<line x1="358.5" y1="555.0" x2="358.5" y2="558.0" stroke="#444" stroke-width="0.8"/>
<text x="358.5" y="570.8" font-size="11.5" class="b" fill="#111" text-anchor="middle">12</text>
<line x1="407.3" y1="555.0" x2="407.3" y2="556.8" stroke="#444" stroke-width="0.8"/>
<path d="M65.7,550.9 L66.2,548.3 L66.7,549.1 L67.2,546.8 L67.7,545.1 L68.2,546.0 L68.7,547.8 L69.2,544.7 L69.7,545.2 L70.2,549.6 L70.7,555.0 L71.2,551.6 L71.7,555.0 L72.2,555.0 L72.7,553.5 L73.2,552.5 L73.7,553.2 L74.2,554.7 L74.7,552.1 L75.2,554.0 L75.7,551.3 L76.2,552.6 L76.7,554.5 L77.2,551.6 L77.6,551.6 L78.1,549.8 L78.6,549.6 L79.1,552.5 L79.6,552.5 L80.1,553.1 L80.6,553.9 L81.1,552.6 L81.6,555.0 L82.1,554.0 L82.6,552.1 L83.1,554.6 L83.6,552.1 L84.1,553.8 L84.6,555.0 L85.1,555.0 L85.6,554.1 L86.1,555.0 L86.6,553.4 L87.1,552.1 L87.6,553.4 L88.1,549.7 L88.6,543.1 L89.1,534.5 L89.6,520.3 L90.1,506.9 L90.6,495.8 L91.1,496.7 L91.6,506.9 L92.1,519.1 L92.6,535.0 L93.1,544.2 L93.6,548.0 L94.1,551.6 L94.6,544.5 L95.1,538.4 L95.6,525.4 L96.1,516.2 L96.6,519.4 L97.1,531.6 L97.6,542.5 L98.1,549.8 L98.6,550.4 L99.1,545.2 L99.6,535.7 L100.1,516.3 L100.6,495.2 L101.1,470.6 L101.5,453.4 L102.0,446.9 L102.5,452.2 L103.0,471.4 L103.5,492.0 L104.0,515.0 L104.5,534.4 L105.0,545.6 L105.5,548.4 L106.0,550.8 L106.5,551.1 L107.0,546.7 L107.5,543.3 L108.0,544.8 L108.5,549.9 L109.0,552.8 L109.5,554.7 L110.0,551.6 L110.5,555.0 L111.0,552.2 L111.5,554.9 L112.0,553.9 L112.5,555.0 L113.0,553.5 L113.5,555.0 L114.0,553.3 L114.5,551.9 L115.0,555.0 L115.5,555.0 L116.0,553.8 L116.5,554.1 L117.0,552.0 L117.5,554.2 L118.0,553.1 L118.5,552.6 L119.0,553.8 L119.5,555.0 L120.0,555.0 L120.5,555.0 L121.0,554.0 L121.5,553.9 L122.0,554.7 L122.5,553.8 L123.0,554.2 L123.5,550.6 L124.0,552.0 L124.5,553.0 L124.9,553.3 L125.4,551.6 L125.9,554.1 L126.4,555.0 L126.9,553.6 L127.4,552.3 L127.9,555.0 L128.4,554.3 L128.9,553.8 L129.4,551.8 L129.9,550.7 L130.4,554.1 L130.9,555.0 L131.4,554.4 L131.9,555.0 L132.4,554.0 L132.9,553.6 L133.4,553.5 L133.9,553.7 L134.4,554.7 L134.9,555.0 L135.4,552.4 L135.9,554.0 L136.4,554.5 L136.9,554.8 L137.4,553.4 L137.9,553.5 L138.4,553.4 L138.9,555.0 L139.4,554.3 L139.9,553.3 L140.4,555.0 L140.9,553.7 L141.4,553.6 L141.9,553.8 L142.4,554.2 L142.9,552.8 L143.4,553.3 L143.9,552.9 L144.4,554.8 L144.9,553.3 L145.4,554.3 L145.9,554.2 L146.4,555.0 L146.9,553.5 L147.4,552.7 L147.9,553.2 L148.4,553.8 L148.8,554.8 L149.3,553.1 L149.8,554.6 L150.3,555.0 L150.8,555.0 L151.3,554.7 L151.8,552.7 L152.3,549.5 L152.8,551.7 L153.3,553.5 L153.8,553.6 L154.3,555.0 L154.8,554.8 L155.3,555.0 L155.8,555.0 L156.3,551.3 L156.8,552.7 L157.3,554.5 L157.8,553.6 L158.3,553.6 L158.8,552.4 L159.3,554.2 L159.8,554.3 L160.3,554.9 L160.8,555.0 L161.3,554.1 L161.8,552.7 L162.3,555.0 L162.8,552.2 L163.3,553.4 L163.8,554.8 L164.3,554.2 L164.8,552.4 L165.3,553.2 L165.8,550.5 L166.3,553.7 L166.8,552.7 L167.3,555.0 L167.8,553.7 L168.3,554.5 L168.8,552.4 L169.3,553.9 L169.8,553.8 L170.3,553.4 L170.8,551.7 L171.3,554.1 L171.8,554.1 L172.2,554.4 L172.7,554.7 L173.2,554.8 L173.7,551.9 L174.2,553.5 L174.7,552.4 L175.2,553.4 L175.7,553.5 L176.2,555.0 L176.7,554.7 L177.2,555.0 L177.7,554.0 L178.2,553.7 L178.7,552.7 L179.2,553.2 L179.7,554.5 L180.2,554.0 L180.7,554.9 L181.2,555.0 L181.7,553.9 L182.2,554.3 L182.7,552.5 L183.2,553.3 L183.7,554.5 L184.2,555.0 L184.7,554.2 L185.2,553.5 L185.7,553.4 L186.2,555.0 L186.7,555.0 L187.2,554.1 L187.7,550.4 L188.2,552.7 L188.7,554.9 L189.2,555.0 L189.7,554.8 L190.2,552.8 L190.7,551.6 L191.2,555.0 L191.7,555.0 L192.2,551.3 L192.7,551.5 L193.2,552.4 L193.7,554.2 L194.2,553.9 L194.7,555.0 L195.2,554.6 L195.6,553.2 L196.1,553.4 L196.6,552.3 L197.1,555.0 L197.6,553.1 L198.1,554.6 L198.6,555.0 L199.1,552.9 L199.6,554.0 L200.1,554.4 L200.6,553.8 L201.1,554.2 L201.6,552.7 L202.1,553.5 L202.6,555.0 L203.1,554.9 L203.6,555.0 L204.1,554.5 L204.6,554.1 L205.1,554.3 L205.6,553.6 L206.1,555.0 L206.6,554.6 L207.1,554.1 L207.6,554.2 L208.1,553.5 L208.6,553.5 L209.1,549.6 L209.6,552.0 L210.1,554.6 L210.6,552.5 L211.1,555.0 L211.6,555.0 L212.1,555.0 L212.6,554.5 L213.1,555.0 L213.6,553.7 L214.1,554.5 L214.6,554.3 L215.1,554.0 L215.6,555.0 L216.1,553.5 L216.6,555.0 L217.1,553.7 L217.6,552.8 L218.1,552.3 L218.6,555.0 L219.1,555.0 L219.5,552.8 L220.0,552.3 L220.5,553.1 L221.0,553.9 L221.5,555.0 L222.0,554.0 L222.5,554.6 L223.0,554.3 L223.5,555.0 L224.0,554.5 L224.5,554.6 L225.0,555.0 L225.5,553.8 L226.0,553.7 L226.5,554.3 L227.0,555.0 L227.5,553.3 L228.0,552.4 L228.5,554.8 L229.0,552.0 L229.5,554.8 L230.0,555.0 L230.5,553.8 L231.0,554.6 L231.5,553.3 L232.0,553.9 L232.5,552.8 L233.0,555.0 L233.5,554.5 L234.0,553.2 L234.5,554.4 L235.0,553.7 L235.5,553.9 L236.0,555.0 L236.5,554.5 L237.0,554.7 L237.5,555.0 L238.0,552.2 L238.5,553.9 L239.0,550.9 L239.5,555.0 L240.0,552.7 L240.5,555.0 L241.0,552.6 L241.5,552.1 L242.0,555.0 L242.5,553.4 L242.9,552.1 L243.4,554.6 L243.9,554.1 L244.4,550.6 L244.9,551.7 L245.4,553.9 L245.9,554.2 L246.4,553.1 L246.9,554.9 L247.4,551.2 L247.9,555.0 L248.4,555.0 L248.9,554.8 L249.4,554.7 L249.9,552.5 L250.4,553.0 L250.9,554.0 L251.4,554.8 L251.9,554.1 L252.4,554.5 L252.9,554.7 L253.4,552.3 L253.9,552.5 L254.4,554.0 L254.9,553.0 L255.4,552.5 L255.9,555.0 L256.4,554.9 L256.9,555.0 L257.4,553.5 L257.9,554.9 L258.4,554.4 L258.9,551.6 L259.4,554.5 L259.9,552.9 L260.4,553.2 L260.9,553.8 L261.4,555.0 L261.9,551.8 L262.4,553.1 L262.9,554.1 L263.4,553.5 L263.9,553.3 L264.4,554.3 L264.9,552.5 L265.4,555.0 L265.9,554.6 L266.4,555.0 L266.8,554.6 L267.3,552.9 L267.8,549.8 L268.3,553.8 L268.8,553.8 L269.3,554.6 L269.8,554.6 L270.3,554.7 L270.8,555.0 L271.3,554.2 L271.8,553.0 L272.3,554.3 L272.8,552.2 L273.3,553.8 L273.8,551.4 L274.3,551.1 L274.8,548.7 L275.3,551.9 L275.8,546.4 L276.3,549.7 L276.8,550.5 L277.3,549.7 L277.8,552.8 L278.3,551.4 L278.8,553.4 L279.3,553.0 L279.8,553.9 L280.3,553.2 L280.8,552.4 L281.3,553.8 L281.8,554.2 L282.3,555.0 L282.8,554.3 L283.3,554.6 L283.8,550.8 L284.3,554.0 L284.8,555.0 L285.3,553.7 L285.8,554.6 L286.3,554.3 L286.8,553.9 L287.3,553.6 L287.8,554.0 L288.3,551.7 L288.8,554.1 L289.3,553.4 L289.8,554.1 L290.2,554.7 L290.7,554.5 L291.2,552.5 L291.7,555.0 L292.2,553.4 L292.7,555.0 L293.2,553.0 L293.7,554.3 L294.2,555.0 L294.7,553.7 L295.2,555.0 L295.7,552.6 L296.2,553.3 L296.7,555.0 L297.2,553.7 L297.7,554.2 L298.2,554.2 L298.7,553.8 L299.2,554.0 L299.7,553.1 L300.2,553.8 L300.7,555.0 L301.2,553.6 L301.7,552.0 L302.2,553.7 L302.7,551.9 L303.2,550.7 L303.7,555.0 L304.2,554.5 L304.7,553.8 L305.2,555.0 L305.7,555.0 L306.2,552.2 L306.7,554.7 L307.2,553.1 L307.7,553.2 L308.2,554.8 L308.7,550.3 L309.2,552.8 L309.7,554.4 L310.2,554.6 L310.7,555.0 L311.2,552.5 L311.7,552.9 L312.2,554.6 L312.7,553.2 L313.2,553.9 L313.7,553.1 L314.1,552.6 L314.6,554.1 L315.1,554.1 L315.6,554.7 L316.1,554.1 L316.6,555.0 L317.1,554.1 L317.6,550.6 L318.1,554.1 L318.6,554.2 L319.1,554.3 L319.6,555.0 L320.1,554.1 L320.6,554.1 L321.1,554.1 L321.6,554.1 L322.1,554.1 L322.6,554.1 L323.1,554.1 L323.6,554.1 L324.1,554.7 L324.6,554.1 L325.1,555.0 L325.6,554.1 L326.1,554.1 L326.6,554.1 L327.1,554.1 L327.6,554.1 L328.1,554.1 L328.6,554.1 L329.1,553.6 L329.6,554.9 L330.1,554.1 L330.6,555.0 L331.1,554.1 L331.6,554.1 L332.1,554.1 L332.6,555.0 L333.1,554.7 L333.6,554.1 L334.1,554.1 L334.6,554.1 L335.1,555.0 L335.6,554.7 L336.1,554.9 L336.6,555.0 L337.1,554.1 L337.5,555.0 L338.0,553.3 L338.5,555.0 L339.0,554.2 L339.5,554.1 L340.0,555.0 L340.5,554.1 L341.0,554.1 L341.5,554.1 L342.0,555.0 L342.5,554.1 L343.0,555.0 L343.5,551.9 L344.0,554.7 L344.5,554.1 L345.0,554.1 L345.5,554.1 L346.0,554.2 L346.5,554.7 L347.0,554.3 L347.5,554.1 L348.0,554.1 L348.5,555.0 L349.0,554.1 L349.5,554.3 L350.0,554.4 L350.5,555.0 L351.0,554.1 L351.5,555.0 L352.0,554.7 L352.5,554.1 L353.0,555.0 L353.5,554.3 L354.0,553.7 L354.5,554.8 L355.0,555.0 L355.5,554.1 L356.0,554.7 L356.5,555.0 L357.0,554.1 L357.5,554.1 L358.0,554.1 L358.5,554.3 L359.0,555.0 L359.5,554.1 L360.0,555.0 L360.5,554.1 L360.9,554.1 L361.4,554.1 L361.9,552.7 L362.4,554.1 L362.9,554.3 L363.4,555.0 L363.9,554.1 L364.4,554.1 L364.9,554.1 L365.4,555.0 L365.9,554.1 L366.4,554.3 L366.9,554.1 L367.4,555.0 L367.9,553.5 L368.4,555.0 L368.9,554.1 L369.4,555.0 L369.9,554.1 L370.4,555.0 L370.9,554.1 L371.4,554.1 L371.9,555.0 L372.4,554.1 L372.9,555.0 L373.4,554.1 L373.9,555.0 L374.4,554.0 L374.9,552.9 L375.4,554.3 L375.9,555.0 L376.4,554.1 L376.9,554.1 L377.4,554.1 L377.9,553.4 L378.4,555.0 L378.9,554.4 L379.4,554.1 L379.9,554.1 L380.4,554.1 L380.9,554.1 L381.4,555.0 L381.9,555.0 L382.4,554.1 L382.9,555.0 L383.4,554.1 L383.9,552.6 L384.4,554.1 L384.8,554.2 L385.3,554.6 L385.8,554.1 L386.3,553.7 L386.8,554.1 L387.3,554.1 L387.8,552.9 L388.3,555.0 L388.8,554.6 L389.3,555.0 L389.8,554.1 L390.3,555.0 L390.8,554.9 L391.3,554.7 L391.8,554.1 L392.3,554.1 L392.8,554.1 L393.3,554.1 L393.8,554.1 L394.3,555.0 L394.8,554.1 L395.3,554.0 L395.8,554.8 L396.3,554.4 L396.8,554.2 L397.3,554.1 L397.8,554.4 L398.3,554.3 L398.8,555.0 L399.3,554.1 L399.8,553.1 L400.3,555.0 L400.8,554.1 L401.3,554.6 L401.8,555.0 L402.3,554.1 L402.8,554.1 L403.3,554.1 L403.8,554.1 L404.3,554.1 L404.8,554.1 L405.3,554.1 L405.8,554.1 L406.3,553.3 L406.8,555.0 L407.3,554.1 L407.8,554.6 L408.2,554.1 L408.7,554.1 L409.2,554.3 L409.7,554.1 L410.2,555.0 L410.7,554.4 L411.2,555.0 L411.7,555.0 L412.2,555.0 L412.7,554.5 L413.2,554.1 L413.7,554.1 L414.2,554.7 L414.7,554.1 L415.2,554.1 L415.7,555.0 L416.2,554.1 L416.7,555.0 L417.2,554.1 L417.7,554.1 L418.2,554.1 L418.7,555.0 L419.2,554.1 L419.7,554.1 L420.2,555.0 L420.7,554.1 L421.2,554.1 L421.7,554.3 L422.2,554.4 L422.7,554.1 L423.2,554.1 L423.7,554.1 L424.2,554.1 L424.7,554.2 L425.2,554.1 L425.7,554.1 L426.2,554.1 L426.7,554.1 L427.2,554.1 L427.7,554.3 L428.2,555.0 L428.7,554.0 L429.2,554.1 L429.7,554.1 L430.2,554.7 L430.7,555.0 L431.2,555.0 L431.7,554.1 L432.1,555.0 L432.6,554.2 L433.1,554.5 L433.6,554.1 L434.1,554.4" fill="none" stroke="#e20a0a" stroke-width="1.5" stroke-linejoin="round"/>
<line x1="65.7" y1="554.7" x2="434.8" y2="554.7" stroke="#e20a0a" stroke-width="1.2"/>
<rect x="88.6" y="458.7" width="20.4" height="22.0" fill="#ffe100"/><text x="98.8" y="476.3" font-size="22.0" class="sf" fill="#111" text-anchor="middle">Al</text>
<rect x="64.6" y="485.9" width="24.4" height="23.4" fill="#ffe100"/><text x="76.8" y="504.6" font-size="22.0" class="sf" fill="#111" text-anchor="middle">Zn</text>
<rect x="86.3" y="519.3" width="30.0" height="22.7" fill="#ffe100"/><text x="101.3" y="537.5" font-size="22.0" class="sf" fill="#111" text-anchor="middle">Mg</text>
<rect x="282.3" y="536.7" width="25.3" height="21.0" fill="#ffe100"/><text x="294.9" y="553.5" font-size="22.0" class="sf" fill="#111" text-anchor="middle">Zn</text>
<line x1="248.7" y1="435.4" x2="431.6" y2="435.4" stroke="#2a2a2a" stroke-width="1.4"/><line x1="248.7" y1="457.4" x2="431.6" y2="457.4" stroke="#2a2a2a" stroke-width="1.4"/><line x1="248.7" y1="537.3" x2="431.6" y2="537.3" stroke="#2a2a2a" stroke-width="1.4"/><text x="293.5" y="452.0" font-size="15.6" class="sf" fill="#111" text-anchor="middle">Element</text><text x="391.0" y="452.0" font-size="15.6" class="sf" fill="#111" text-anchor="middle">wt.%</text><text x="294.0" y="472.7" font-size="15.6" class="sf" fill="#111" text-anchor="middle">Al</text><text x="386.0" y="472.7" font-size="15.6" class="sf" fill="#111" text-anchor="middle">60.0</text><text x="294.0" y="492.5" font-size="15.6" class="sf" fill="#111" text-anchor="middle">Zn</text><text x="386.0" y="492.5" font-size="15.6" class="sf" fill="#111" text-anchor="middle">21.0</text><text x="294.0" y="512.5" font-size="15.6" class="sf" fill="#111" text-anchor="middle">Mg</text><text x="386.0" y="512.5" font-size="15.6" class="sf" fill="#111" text-anchor="middle">18.9</text><text x="294.0" y="532.6" font-size="15.6" class="sf" fill="#111" text-anchor="middle">Total</text><text x="386.0" y="532.6" font-size="15.6" class="sf" fill="#111" text-anchor="middle">100</text>
<text x="186" y="455.8" font-size="23.5" class="sf" fill="#111" textLength="60" lengthAdjust="spacingAndGlyphs">Point1</text>
<text x="72" y="448.4" font-size="14.5" class="b" fill="#111">BM</text>
<text transform="translate(42.2,493.5) rotate(-90)" font-size="12.5" class="b" fill="#111" text-anchor="middle" textLength="114.0" lengthAdjust="spacingAndGlyphs">Intensity (Counts)</text>
<text x="250" y="587" font-size="13" class="b" fill="#111" text-anchor="middle" textLength="81" lengthAdjust="spacingAndGlyphs">Energy (keV)</text>
<text x="15.5" y="442" font-size="21.5" class="b" fill="#111">h</text>
</g>
<!-- PI -->
<g id="pi">
<rect x="490.6" y="429.9" width="364.1" height="121.9" fill="#fff" stroke="#555" stroke-width="0.9"/>
<line x1="487.6" y1="551.8" x2="490.6" y2="551.8" stroke="#444" stroke-width="0.8"/>
<text x="485.6" y="555.9" font-size="11.5" class="b" fill="#111" text-anchor="end">0</text>
<line x1="488.8" y1="534.8" x2="490.6" y2="534.8" stroke="#444" stroke-width="0.8"/>
<line x1="487.6" y1="517.7" x2="490.6" y2="517.7" stroke="#444" stroke-width="0.8"/>
<text x="485.6" y="521.8" font-size="11.5" class="b" fill="#111" text-anchor="end">5</text>
<line x1="488.8" y1="500.6" x2="490.6" y2="500.6" stroke="#444" stroke-width="0.8"/>
<line x1="487.6" y1="483.6" x2="490.6" y2="483.6" stroke="#444" stroke-width="0.8"/>
<text x="485.6" y="487.7" font-size="11.5" class="b" fill="#111" text-anchor="end">10</text>
<line x1="488.8" y1="466.5" x2="490.6" y2="466.5" stroke="#444" stroke-width="0.8"/>
<line x1="487.6" y1="449.5" x2="490.6" y2="449.5" stroke="#444" stroke-width="0.8"/>
<text x="485.6" y="453.6" font-size="11.5" class="b" fill="#111" text-anchor="end">15</text>
<line x1="490.6" y1="551.8" x2="490.6" y2="554.8" stroke="#444" stroke-width="0.8"/>
<text x="490.6" y="566.8" font-size="11.5" class="b" fill="#111" text-anchor="middle">0</text>
<line x1="539.3" y1="551.8" x2="539.3" y2="553.6" stroke="#444" stroke-width="0.8"/>
<line x1="588.0" y1="551.8" x2="588.0" y2="554.8" stroke="#444" stroke-width="0.8"/>
<text x="588.0" y="566.8" font-size="11.5" class="b" fill="#111" text-anchor="middle">4</text>
<line x1="636.7" y1="551.8" x2="636.7" y2="553.6" stroke="#444" stroke-width="0.8"/>
<line x1="685.4" y1="551.8" x2="685.4" y2="554.8" stroke="#444" stroke-width="0.8"/>
<text x="685.4" y="566.8" font-size="11.5" class="b" fill="#111" text-anchor="middle">8</text>
<line x1="734.1" y1="551.8" x2="734.1" y2="553.6" stroke="#444" stroke-width="0.8"/>
<line x1="782.8" y1="551.8" x2="782.8" y2="554.8" stroke="#444" stroke-width="0.8"/>
<text x="782.8" y="566.8" font-size="11.5" class="b" fill="#111" text-anchor="middle">12</text>
<line x1="831.5" y1="551.8" x2="831.5" y2="553.6" stroke="#444" stroke-width="0.8"/>
<path d="M490.6,551.8 L491.1,551.8 L491.6,551.8 L492.1,551.8 L492.6,551.8 L493.1,551.8 L493.6,545.0 L494.1,551.8 L494.6,551.8 L495.1,551.8 L495.6,545.0 L496.1,545.0 L496.6,551.8 L497.1,545.0 L497.6,538.2 L498.1,551.8 L498.6,545.0 L499.1,545.0 L499.6,545.0 L500.1,551.8 L500.6,545.0 L501.1,551.8 L501.6,551.8 L502.1,538.2 L502.6,551.8 L503.1,551.8 L503.6,538.2 L504.1,551.8 L504.6,551.8 L505.1,551.8 L505.6,545.0 L506.1,545.0 L506.6,545.0 L507.1,551.8 L507.6,545.0 L508.1,545.0 L508.6,551.8 L509.1,551.8 L509.5,545.0 L510.0,551.8 L510.5,538.2 L511.0,545.0 L511.5,551.8 L512.0,545.0 L512.5,545.0 L513.0,545.0 L513.5,538.2 L514.0,545.0 L514.5,538.2 L515.0,517.7 L515.5,517.7 L516.0,538.2 L516.5,545.0 L517.0,551.8 L517.5,551.8 L518.0,531.3 L518.5,531.3 L519.0,524.5 L519.5,504.1 L520.0,463.1 L520.5,449.5 L521.0,442.7 L521.5,449.5 L522.0,476.8 L522.5,497.2 L523.0,510.9 L523.5,538.2 L524.0,538.2 L524.5,545.0 L525.0,551.8 L525.5,545.0 L526.0,538.2 L526.5,538.2 L527.0,538.2 L527.5,517.7 L528.0,531.3 L528.5,545.0 L529.0,551.8 L529.5,545.0 L530.0,538.2 L530.5,545.0 L531.0,551.8 L531.5,551.8 L532.0,551.8 L532.5,545.0 L533.0,551.8 L533.5,545.0 L534.0,545.0 L534.5,538.2 L535.0,551.8 L535.5,551.8 L536.0,545.0 L536.5,545.0 L537.0,551.8 L537.5,551.8 L538.0,545.0 L538.5,551.8 L539.0,551.8 L539.5,551.8 L540.0,551.8 L540.5,545.0 L541.0,545.0 L541.5,551.8 L542.0,551.8 L542.5,538.2 L543.0,551.8 L543.5,551.8 L544.0,545.0 L544.5,545.0 L545.0,551.8 L545.5,551.8 L546.0,551.8 L546.5,551.8 L547.0,545.0 L547.4,551.8 L547.9,551.8 L548.4,551.8 L548.9,551.8 L549.4,551.8 L549.9,551.8 L550.4,551.8 L550.9,551.8 L551.4,551.8 L551.9,551.8 L552.4,538.2 L552.9,551.8 L553.4,551.8 L553.9,551.8 L554.4,551.8 L554.9,551.8 L555.4,545.0 L555.9,551.8 L556.4,551.8 L556.9,551.8 L557.4,551.8 L557.9,551.8 L558.4,551.8 L558.9,551.8 L559.4,545.0 L559.9,551.8 L560.4,551.8 L560.9,545.0 L561.4,551.8 L561.9,545.0 L562.4,545.0 L562.9,545.0 L563.4,545.0 L563.9,545.0 L564.4,551.8 L564.9,551.8 L565.4,551.8 L565.9,538.2 L566.4,545.0 L566.9,545.0 L567.4,538.2 L567.9,551.8 L568.4,545.0 L568.9,545.0 L569.4,545.0 L569.9,551.8 L570.4,551.8 L570.9,551.8 L571.4,551.8 L571.9,551.8 L572.4,551.8 L572.9,545.0 L573.4,551.8 L573.9,551.8 L574.4,551.8 L574.9,551.8 L575.4,551.8 L575.9,551.8 L576.4,545.0 L576.9,551.8 L577.4,551.8 L577.9,545.0 L578.4,551.8 L578.9,551.8 L579.4,551.8 L579.9,551.8 L580.4,551.8 L580.9,551.8 L581.4,551.8 L581.9,551.8 L582.4,551.8 L582.9,551.8 L583.4,551.8 L583.9,551.8 L584.4,551.8 L584.8,551.8 L585.3,551.8 L585.8,551.8 L586.3,551.8 L586.8,551.8 L587.3,551.8 L587.8,551.8 L588.3,551.8 L588.8,551.8 L589.3,551.8 L589.8,551.8 L590.3,551.8 L590.8,545.0 L591.3,551.8 L591.8,551.8 L592.3,551.8 L592.8,551.8 L593.3,551.8 L593.8,551.8 L594.3,551.8 L594.8,551.8 L595.3,551.8 L595.8,551.8 L596.3,551.8 L596.8,551.8 L597.3,551.8 L597.8,551.8 L598.3,551.8 L598.8,551.8 L599.3,551.8 L599.8,551.8 L600.3,551.8 L600.8,551.8 L601.3,551.8 L601.8,551.8 L602.3,551.8 L602.8,551.8 L603.3,545.0 L603.8,551.8 L604.3,551.8 L604.8,551.8 L605.3,551.8 L605.8,545.0 L606.3,551.8 L606.8,551.8 L607.3,551.8 L607.8,551.8 L608.3,551.8 L608.8,551.8 L609.3,551.8 L609.8,551.8 L610.3,551.8 L610.8,551.8 L611.3,551.8 L611.8,551.8 L612.3,538.2 L612.8,551.8 L613.3,551.8 L613.8,551.8 L614.3,551.8 L614.8,551.8 L615.3,551.8 L615.8,551.8 L616.3,551.8 L616.8,551.8 L617.3,551.8 L617.8,551.8 L618.3,551.8 L618.8,551.8 L619.3,545.0 L619.8,551.8 L620.3,551.8 L620.8,551.8 L621.3,545.0 L621.8,551.8 L622.3,551.8 L622.7,551.8 L623.2,538.2 L623.7,551.8 L624.2,551.8 L624.7,551.8 L625.2,551.8 L625.7,551.8 L626.2,551.8 L626.7,551.8 L627.2,551.8 L627.7,551.8 L628.2,551.8 L628.7,551.8 L629.2,551.8 L629.7,545.0 L630.2,551.8 L630.7,545.0 L631.2,551.8 L631.7,551.8 L632.2,551.8 L632.7,551.8 L633.2,551.8 L633.7,551.8 L634.2,551.8 L634.7,551.8 L635.2,551.8 L635.7,551.8 L636.2,545.0 L636.7,551.8 L637.2,551.8 L637.7,551.8 L638.2,551.8 L638.7,551.8 L639.2,551.8 L639.7,551.8 L640.2,551.8 L640.7,551.8 L641.2,551.8 L641.7,551.8 L642.2,551.8 L642.7,551.8 L643.2,551.8 L643.7,551.8 L644.2,551.8 L644.7,551.8 L645.2,551.8 L645.7,551.8 L646.2,551.8 L646.7,551.8 L647.2,551.8 L647.7,551.8 L648.2,551.8 L648.7,551.8 L649.2,551.8 L649.7,551.8 L650.2,551.8 L650.7,551.8 L651.2,551.8 L651.7,551.8 L652.2,551.8 L652.7,551.8 L653.2,551.8 L653.7,551.8 L654.2,551.8 L654.7,551.8 L655.2,551.8 L655.7,551.8 L656.2,551.8 L656.7,551.8 L657.2,551.8 L657.7,551.8 L658.2,551.8 L658.7,551.8 L659.2,551.8 L659.7,551.8 L660.1,551.8 L660.6,551.8 L661.1,551.8 L661.6,551.8 L662.1,551.8 L662.6,551.8 L663.1,551.8 L663.6,551.8 L664.1,551.8 L664.6,551.8 L665.1,551.8 L665.6,551.8 L666.1,551.8 L666.6,551.8 L667.1,551.8 L667.6,551.8 L668.1,551.8 L668.6,551.8 L669.1,545.0 L669.6,551.8 L670.1,551.8 L670.6,551.8 L671.1,551.8 L671.6,551.8 L672.1,551.8 L672.6,551.8 L673.1,551.8 L673.6,551.8 L674.1,551.8 L674.6,545.0 L675.1,545.0 L675.6,545.0 L676.1,551.8 L676.6,538.2 L677.1,551.8 L677.6,551.8 L678.1,551.8 L678.6,551.8 L679.1,551.8 L679.6,551.8 L680.1,551.8 L680.6,551.8 L681.1,551.8 L681.6,551.8 L682.1,551.8 L682.6,551.8 L683.1,551.8 L683.6,551.8 L684.1,551.8 L684.6,551.8 L685.1,551.8 L685.6,551.8 L686.1,551.8 L686.6,551.8 L687.1,551.8 L687.6,551.8 L688.1,551.8 L688.6,551.8 L689.1,551.8 L689.6,551.8 L690.1,551.8 L690.6,551.8 L691.1,551.8 L691.6,551.8 L692.1,551.8 L692.6,545.0 L693.1,551.8 L693.6,551.8 L694.1,551.8 L694.6,551.8 L695.1,551.8 L695.6,551.8 L696.1,551.8 L696.6,551.8 L697.1,551.8 L697.5,551.8 L698.0,551.8 L698.5,551.8 L699.0,551.8 L699.5,551.8 L700.0,551.8 L700.5,551.8 L701.0,551.8 L701.5,551.8 L702.0,551.8 L702.5,551.8 L703.0,551.8 L703.5,551.8 L704.0,551.8 L704.5,551.8 L705.0,551.8 L705.5,551.8 L706.0,551.8 L706.5,551.8 L707.0,551.8 L707.5,551.8 L708.0,551.8 L708.5,551.8 L709.0,551.8 L709.5,551.8 L710.0,551.8 L710.5,551.8 L711.0,551.8 L711.5,551.8 L712.0,551.8 L712.5,551.8 L713.0,551.8 L713.5,551.8 L714.0,551.8 L714.5,551.8 L715.0,551.8 L715.5,551.8 L716.0,551.8 L716.5,551.8 L717.0,551.8 L717.5,551.8 L718.0,551.8 L718.5,551.8 L719.0,551.8 L719.5,551.8 L720.0,545.0 L720.5,545.0 L721.0,551.8 L721.5,551.8 L722.0,545.0 L722.5,545.0 L723.0,551.8 L723.5,551.8 L724.0,545.0 L724.5,551.8 L725.0,551.8 L725.5,551.8 L726.0,551.8 L726.5,551.8 L727.0,551.8 L727.5,551.8 L728.0,551.8 L728.5,551.8 L729.0,551.8 L729.5,551.8 L730.0,551.8 L730.5,551.8 L731.0,551.8 L731.5,551.8 L732.0,551.8 L732.5,551.8 L733.0,545.0 L733.5,551.8 L734.0,551.8 L734.5,551.8 L735.0,545.0 L735.4,551.8 L735.9,545.0 L736.4,551.8 L736.9,551.8 L737.4,551.8 L737.9,551.8 L738.4,551.8 L738.9,551.8 L739.4,551.8 L739.9,551.8 L740.4,551.8 L740.9,551.8 L741.4,551.8 L741.9,551.8 L742.4,551.8 L742.9,551.8 L743.4,551.8 L743.9,551.8 L744.4,551.8 L744.9,551.8 L745.4,551.8 L745.9,551.8 L746.4,551.8 L746.9,551.8 L747.4,551.8 L747.9,551.8 L748.4,551.8 L748.9,551.8 L749.4,551.8 L749.9,551.8 L750.4,551.8 L750.9,551.8 L751.4,551.8 L751.9,551.8 L752.4,551.8 L752.9,551.8 L753.4,551.8 L753.9,551.8 L754.4,551.8 L754.9,551.8 L755.4,551.8 L755.9,551.8 L756.4,551.8 L756.9,551.8 L757.4,551.8 L757.9,551.8 L758.4,551.8 L758.9,551.8 L759.4,551.8 L759.9,551.8 L760.4,551.8 L760.9,551.8 L761.4,551.8 L761.9,551.8 L762.4,551.8 L762.9,551.8 L763.4,551.8 L763.9,551.8 L764.4,551.8 L764.9,551.8 L765.4,551.8 L765.9,551.8 L766.4,551.8 L766.9,551.8 L767.4,551.8 L767.9,551.8 L768.4,551.8 L768.9,551.8 L769.4,551.8 L769.9,551.8 L770.4,551.8 L770.9,551.8 L771.4,551.8 L771.9,545.0 L772.4,551.8 L772.8,551.8 L773.3,551.8 L773.8,551.8 L774.3,551.8 L774.8,551.8 L775.3,551.8 L775.8,551.8 L776.3,551.8 L776.8,551.8 L777.3,551.8 L777.8,551.8 L778.3,551.8 L778.8,551.8 L779.3,551.8 L779.8,551.8 L780.3,551.8 L780.8,551.8 L781.3,551.8 L781.8,551.8 L782.3,551.8 L782.8,551.8 L783.3,551.8 L783.8,551.8 L784.3,551.8 L784.8,551.8 L785.3,551.8 L785.8,551.8 L786.3,551.8 L786.8,551.8 L787.3,551.8 L787.8,551.8 L788.3,551.8 L788.8,551.8 L789.3,551.8 L789.8,551.8 L790.3,551.8 L790.8,551.8 L791.3,551.8 L791.8,551.8 L792.3,551.8 L792.8,551.8 L793.3,551.8 L793.8,551.8 L794.3,551.8 L794.8,551.8 L795.3,551.8 L795.8,551.8 L796.3,545.0 L796.8,551.8 L797.3,551.8 L797.8,551.8 L798.3,551.8 L798.8,551.8 L799.3,551.8 L799.8,551.8 L800.3,551.8 L800.8,551.8 L801.3,551.8 L801.8,551.8 L802.3,551.8 L802.8,551.8 L803.3,551.8 L803.8,551.8 L804.3,551.8 L804.8,551.8 L805.3,551.8 L805.8,551.8 L806.3,551.8 L806.8,551.8 L807.3,551.8 L807.8,551.8 L808.3,551.8 L808.8,551.8 L809.3,551.8 L809.8,551.8 L810.3,551.8 L810.7,551.8 L811.2,551.8 L811.7,551.8 L812.2,551.8 L812.7,551.8 L813.2,551.8 L813.7,551.8 L814.2,551.8 L814.7,551.8 L815.2,551.8 L815.7,551.8 L816.2,551.8 L816.7,551.8 L817.2,551.8 L817.7,551.8 L818.2,551.8 L818.7,551.8 L819.2,551.8 L819.7,551.8 L820.2,551.8 L820.7,551.8 L821.2,551.8 L821.7,551.8 L822.2,551.8 L822.7,551.8 L823.2,551.8 L823.7,551.8 L824.2,551.8 L824.7,551.8 L825.2,551.8 L825.7,551.8 L826.2,551.8 L826.7,551.8 L827.2,551.8 L827.7,551.8 L828.2,551.8 L828.7,551.8 L829.2,551.8 L829.7,551.8 L830.2,551.8 L830.7,551.8 L831.2,551.8 L831.7,551.8 L832.2,551.8 L832.7,551.8 L833.2,551.8 L833.7,551.8 L834.2,551.8 L834.7,551.8 L835.2,551.8 L835.7,551.8 L836.2,551.8 L836.7,551.8 L837.2,551.8 L837.7,551.8 L838.2,551.8 L838.7,551.8 L839.2,551.8 L839.7,551.8 L840.2,551.8 L840.7,551.8 L841.2,551.8 L841.7,551.8 L842.2,551.8 L842.7,551.8 L843.2,551.8 L843.7,551.8 L844.2,551.8 L844.7,551.8 L845.2,551.8 L845.7,551.8 L846.2,551.8 L846.7,551.8 L847.2,551.8 L847.7,551.8 L848.1,551.8 L848.6,551.8 L849.1,551.8 L849.6,551.8 L850.1,551.8 L850.6,551.8 L851.1,551.8 L851.6,551.8 L852.1,551.8 L852.6,551.8 L853.1,551.8 L853.6,551.8 L854.1,551.8 L854.6,551.8" fill="none" stroke="#e20a0a" stroke-width="1.3" stroke-linejoin="round"/>
<line x1="490.6" y1="551.5" x2="854.7" y2="551.5" stroke="#e20a0a" stroke-width="1.2"/>
<rect x="505.0" y="457.9" width="31.3" height="22.8" fill="#ffe100"/><text x="520.6" y="476.1" font-size="22.0" class="sf" fill="#111" text-anchor="middle">Mg</text>
<line x1="667.5" y1="435.4" x2="849.8" y2="435.4" stroke="#2a2a2a" stroke-width="1.4"/><line x1="667.5" y1="457.4" x2="849.8" y2="457.4" stroke="#2a2a2a" stroke-width="1.4"/><line x1="667.5" y1="537.3" x2="849.8" y2="537.3" stroke="#2a2a2a" stroke-width="1.4"/><text x="712.5" y="452.0" font-size="15.6" class="sf" fill="#111" text-anchor="middle">Element</text><text x="810.0" y="452.0" font-size="15.6" class="sf" fill="#111" text-anchor="middle">wt.%</text><text x="712.9" y="472.7" font-size="15.6" class="sf" fill="#111" text-anchor="middle">Mg</text><text x="803.5" y="472.7" font-size="15.6" class="sf" fill="#111" text-anchor="middle">100</text><text x="712.9" y="492.5" font-size="15.6" class="sf" fill="#111" text-anchor="middle">Zn</text><text x="803.5" y="492.5" font-size="15.6" class="sf" fill="#111" text-anchor="middle">0</text><text x="712.9" y="512.5" font-size="15.6" class="sf" fill="#111" text-anchor="middle">Al</text><text x="803.5" y="512.5" font-size="15.6" class="sf" fill="#111" text-anchor="middle">0</text><text x="712.9" y="532.6" font-size="15.6" class="sf" fill="#111" text-anchor="middle">Total</text><text x="803.5" y="532.6" font-size="15.6" class="sf" fill="#111" text-anchor="middle">100</text>
<text x="602.8" y="452.7" font-size="23.5" class="sf" fill="#111" textLength="61" lengthAdjust="spacingAndGlyphs">Point2</text>
<text x="495" y="445.6" font-size="14" class="b" fill="#111">SZ</text>
<text transform="translate(467.0,490.0) rotate(-90)" font-size="12.5" class="b" fill="#111" text-anchor="middle" textLength="113.0" lengthAdjust="spacingAndGlyphs">Intensity (Counts)</text>
<text x="672.7" y="583.2" font-size="13" class="b" fill="#111" text-anchor="middle" textLength="80.5" lengthAdjust="spacingAndGlyphs">Energy (keV)</text>
<text x="445" y="442" font-size="21.5" class="b" fill="#111">i</text>
</g>
<!-- OV -->
<g id="ov">
<circle cx="369" cy="84.4" r="6.4" fill="none" stroke="#fff" stroke-width="2.5"/>
<line x1="371.3" y1="90.8" x2="378.5" y2="118" stroke="#fff" stroke-width="1.7"/>
<polygon points="381,126.5 374.3,115.8 382.2,113.8" fill="#fff"/>
<circle cx="587.9" cy="79.8" r="6.4" fill="none" stroke="#fff" stroke-width="2.5"/>
<line x1="587.5" y1="86.5" x2="587" y2="116" stroke="#fff" stroke-width="1.7"/>
<polygon points="587,124.5 583,112.5 591,112.5" fill="#fff"/>
<line x1="376.4" y1="226.7" x2="385.5" y2="241" stroke="#0a0a0a" stroke-width="1.9"/>
<polygon points="390.6,249 381.6,240.2 387.8,236.6" fill="#0a0a0a"/>
<line x1="605.6" y1="217.6" x2="616.5" y2="236.5" stroke="#0a0a0a" stroke-width="2.3"/>
<polygon points="621.8,245 611.8,237.8 619.6,233.2" fill="#0a0a0a"/>
</g>
<!-- WM -->
<g id="wm">
<g opacity="0.62">
<g fill="#7d7d7d">
<path d="M529.2,548.3 a11.1,9.3 0 1 0 0.01,0 Z M522.2,564.3 l-1.8,4.6 l5.6,-2.8 Z"/>
</g>
<ellipse cx="540.6" cy="564.8" rx="10.9" ry="9.3" fill="#fff"/>
<g fill="#7d7d7d"><ellipse cx="540.6" cy="564.8" rx="9.7" ry="8.1"/><path d="M544,571.5 l3.2,2.6 l-0.4,-4 Z"/></g>
<g fill="#fff"><circle cx="525.8" cy="554.6" r="1.4"/><circle cx="533.7" cy="554.6" r="1.4"/><circle cx="537.2" cy="562.5" r="1.2"/><circle cx="543.4" cy="562.5" r="1.2"/></g>
<text x="558.2" y="569.6" font-size="23.7" fill="#7d7d7d" textLength="276" lengthAdjust="spacingAndGlyphs" style="font-family:'Liberation Sans','Noto Sans CJK SC',sans-serif">公众号 · 3D打印技术参考</text>
</g>
</g>
</svg>
</body></html>
